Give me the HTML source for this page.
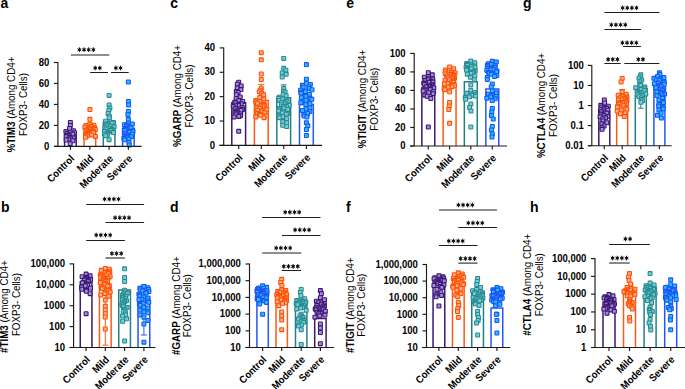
<!DOCTYPE html>
<html><head><meta charset="utf-8"><style>
html,body{margin:0;padding:0;background:#fff;}
svg{display:block;}
</style></head><body>
<svg width="685" height="389" viewBox="0 0 685 389" font-family='"Liberation Sans", sans-serif' fill="#000">
<defs><g id="st"><path d="M0,-1.95V1.95M-1.5,-0.87L1.5,0.87M-1.5,0.87L1.5,-0.87" stroke="#111" stroke-width="1.0" stroke-linecap="round"/><circle r="1.3" fill="#111"/></g></defs>
<rect width="685" height="389" fill="#fff"/>
<text x="0.6" y="7.8" font-size="14" font-weight="bold">a</text>
<text transform="translate(14.6,104.6) rotate(-90) scale(0.924,1)" text-anchor="middle" font-size="10.6"><tspan font-weight="bold">%TIM3</tspan> (Among CD4+</text>
<text transform="translate(26.8,104.6) rotate(-90) scale(0.924,1)" text-anchor="middle" font-size="10.6">FOXP3- Cells)</text>
<line x1="53.9" y1="146.35" x2="57.9" y2="146.35" stroke="#1a1a1a" stroke-width="1.15"/>
<text transform="translate(49.3,149.55) scale(0.918,1)" text-anchor="end" font-size="10.4" font-weight="bold">0</text>
<line x1="53.9" y1="125.39" x2="57.9" y2="125.39" stroke="#1a1a1a" stroke-width="1.15"/>
<text transform="translate(49.3,128.59) scale(0.918,1)" text-anchor="end" font-size="10.4" font-weight="bold">20</text>
<line x1="53.9" y1="104.42" x2="57.9" y2="104.42" stroke="#1a1a1a" stroke-width="1.15"/>
<text transform="translate(49.3,107.62) scale(0.918,1)" text-anchor="end" font-size="10.4" font-weight="bold">40</text>
<line x1="53.9" y1="83.46" x2="57.9" y2="83.46" stroke="#1a1a1a" stroke-width="1.15"/>
<text transform="translate(49.3,86.66) scale(0.918,1)" text-anchor="end" font-size="10.4" font-weight="bold">60</text>
<line x1="53.9" y1="62.5" x2="57.9" y2="62.5" stroke="#1a1a1a" stroke-width="1.15"/>
<text transform="translate(49.3,65.7) scale(0.918,1)" text-anchor="end" font-size="10.4" font-weight="bold">80</text>
<path d="M64.6,146.35V134.5H76.2V146.35" fill="none" stroke="#3d1a6c" stroke-width="1.5"/>
<path d="M84.1,146.35V128.3H95.7V146.35" fill="none" stroke="#ff5a14" stroke-width="1.5"/>
<path d="M103.3,146.35V122.5H114.9V146.35" fill="none" stroke="#217f86" stroke-width="1.5"/>
<path d="M122.6,146.35V128.3H134.2V146.35" fill="none" stroke="#2356fa" stroke-width="1.5"/>
<g fill="#a48ae0" stroke="#3c1872" stroke-width="1.1">
<rect x="68.45" y="120.55" width="3.9" height="3.9" rx="0.5"/>
<rect x="68.39" y="123.55" width="3.9" height="3.9" rx="0.5"/>
<rect x="67.61" y="126.55" width="3.9" height="3.9" rx="0.5"/>
<rect x="71.45" y="128.73" width="3.9" height="3.9" rx="0.5"/>
<rect x="63.95" y="129.67" width="3.9" height="3.9" rx="0.5"/>
<rect x="68.39" y="130.29" width="3.9" height="3.9" rx="0.5"/>
<rect x="72.57" y="130.75" width="3.9" height="3.9" rx="0.5"/>
<rect x="65.27" y="131.5" width="3.9" height="3.9" rx="0.5"/>
<rect x="70.83" y="132.14" width="3.9" height="3.9" rx="0.5"/>
<rect x="66.83" y="132.88" width="3.9" height="3.9" rx="0.5"/>
<rect x="66.76" y="133.59" width="3.9" height="3.9" rx="0.5"/>
<rect x="66.3" y="133.97" width="3.9" height="3.9" rx="0.5"/>
<rect x="64.25" y="134.6" width="3.9" height="3.9" rx="0.5"/>
<rect x="67.79" y="135.57" width="3.9" height="3.9" rx="0.5"/>
<rect x="71.45" y="136.07" width="3.9" height="3.9" rx="0.5"/>
<rect x="68.76" y="136.86" width="3.9" height="3.9" rx="0.5"/>
<rect x="66.46" y="137.21" width="3.9" height="3.9" rx="0.5"/>
<rect x="64.21" y="138.04" width="3.9" height="3.9" rx="0.5"/>
<rect x="70.9" y="138.81" width="3.9" height="3.9" rx="0.5"/>
<rect x="68.24" y="141.75" width="3.9" height="3.9" rx="0.5"/>
</g>
<g fill="#ffab8c" stroke="#ff5200" stroke-width="1.1">
<rect x="87.95" y="107.65" width="3.9" height="3.9" rx="0.5"/>
<rect x="87.95" y="117.35" width="3.9" height="3.9" rx="0.5"/>
<rect x="87.95" y="122.16" width="3.9" height="3.9" rx="0.5"/>
<rect x="91.95" y="123.25" width="3.9" height="3.9" rx="0.5"/>
<rect x="83.95" y="123.64" width="3.9" height="3.9" rx="0.5"/>
<rect x="89.4" y="124.38" width="3.9" height="3.9" rx="0.5"/>
<rect x="82.88" y="125.26" width="3.9" height="3.9" rx="0.5"/>
<rect x="92.59" y="125.76" width="3.9" height="3.9" rx="0.5"/>
<rect x="88.61" y="126.23" width="3.9" height="3.9" rx="0.5"/>
<rect x="89.94" y="126.58" width="3.9" height="3.9" rx="0.5"/>
<rect x="92.1" y="127.09" width="3.9" height="3.9" rx="0.5"/>
<rect x="93.39" y="127.49" width="3.9" height="3.9" rx="0.5"/>
<rect x="87.78" y="127.86" width="3.9" height="3.9" rx="0.5"/>
<rect x="84.65" y="128.13" width="3.9" height="3.9" rx="0.5"/>
<rect x="85.2" y="128.54" width="3.9" height="3.9" rx="0.5"/>
<rect x="84.58" y="128.86" width="3.9" height="3.9" rx="0.5"/>
<rect x="91.5" y="129.25" width="3.9" height="3.9" rx="0.5"/>
<rect x="89.38" y="129.61" width="3.9" height="3.9" rx="0.5"/>
<rect x="88.2" y="129.9" width="3.9" height="3.9" rx="0.5"/>
<rect x="87.32" y="130.11" width="3.9" height="3.9" rx="0.5"/>
<rect x="89.05" y="130.38" width="3.9" height="3.9" rx="0.5"/>
<rect x="91.5" y="130.65" width="3.9" height="3.9" rx="0.5"/>
<rect x="85.7" y="130.91" width="3.9" height="3.9" rx="0.5"/>
<rect x="85.76" y="131.23" width="3.9" height="3.9" rx="0.5"/>
<rect x="87.43" y="131.67" width="3.9" height="3.9" rx="0.5"/>
<rect x="83.72" y="132" width="3.9" height="3.9" rx="0.5"/>
<rect x="86.21" y="132.42" width="3.9" height="3.9" rx="0.5"/>
<rect x="89.69" y="133" width="3.9" height="3.9" rx="0.5"/>
<rect x="84.16" y="133.39" width="3.9" height="3.9" rx="0.5"/>
<rect x="85.32" y="133.97" width="3.9" height="3.9" rx="0.5"/>
<rect x="93.45" y="134.52" width="3.9" height="3.9" rx="0.5"/>
<rect x="83.48" y="135.31" width="3.9" height="3.9" rx="0.5"/>
</g>
<g fill="#78cdd3" stroke="#288b94" stroke-width="1.1">
<rect x="107.15" y="93.45" width="3.9" height="3.9" rx="0.5"/>
<rect x="107.15" y="102.96" width="3.9" height="3.9" rx="0.5"/>
<rect x="107.92" y="106.12" width="3.9" height="3.9" rx="0.5"/>
<rect x="106.9" y="108.51" width="3.9" height="3.9" rx="0.5"/>
<rect x="106.13" y="111.55" width="3.9" height="3.9" rx="0.5"/>
<rect x="107.39" y="114.25" width="3.9" height="3.9" rx="0.5"/>
<rect x="107.34" y="116.02" width="3.9" height="3.9" rx="0.5"/>
<rect x="103.65" y="119.26" width="3.9" height="3.9" rx="0.5"/>
<rect x="107.65" y="120" width="3.9" height="3.9" rx="0.5"/>
<rect x="111.65" y="120.56" width="3.9" height="3.9" rx="0.5"/>
<rect x="109.99" y="121.28" width="3.9" height="3.9" rx="0.5"/>
<rect x="105.86" y="121.91" width="3.9" height="3.9" rx="0.5"/>
<rect x="104.18" y="122.32" width="3.9" height="3.9" rx="0.5"/>
<rect x="106.57" y="122.93" width="3.9" height="3.9" rx="0.5"/>
<rect x="105.02" y="123.86" width="3.9" height="3.9" rx="0.5"/>
<rect x="108.54" y="124.27" width="3.9" height="3.9" rx="0.5"/>
<rect x="112.15" y="124.89" width="3.9" height="3.9" rx="0.5"/>
<rect x="102.99" y="125.8" width="3.9" height="3.9" rx="0.5"/>
<rect x="107.75" y="126.23" width="3.9" height="3.9" rx="0.5"/>
<rect x="104.11" y="126.99" width="3.9" height="3.9" rx="0.5"/>
<rect x="110.12" y="127.48" width="3.9" height="3.9" rx="0.5"/>
<rect x="110.14" y="128.16" width="3.9" height="3.9" rx="0.5"/>
<rect x="108.56" y="128.61" width="3.9" height="3.9" rx="0.5"/>
<rect x="102.49" y="129.41" width="3.9" height="3.9" rx="0.5"/>
<rect x="106.36" y="130.13" width="3.9" height="3.9" rx="0.5"/>
<rect x="111.52" y="130.62" width="3.9" height="3.9" rx="0.5"/>
<rect x="105.53" y="131.33" width="3.9" height="3.9" rx="0.5"/>
<rect x="102.51" y="131.93" width="3.9" height="3.9" rx="0.5"/>
<rect x="105.34" y="132.32" width="3.9" height="3.9" rx="0.5"/>
<rect x="105.44" y="133.21" width="3.9" height="3.9" rx="0.5"/>
<rect x="103.62" y="133.77" width="3.9" height="3.9" rx="0.5"/>
<rect x="107.15" y="137.75" width="3.9" height="3.9" rx="0.5"/>
</g>
<g fill="#22c0ff" stroke="#1e52f5" stroke-width="1.1">
<rect x="126.45" y="80.05" width="3.9" height="3.9" rx="0.5"/>
<rect x="126.45" y="99.45" width="3.9" height="3.9" rx="0.5"/>
<rect x="126.67" y="103.05" width="3.9" height="3.9" rx="0.5"/>
<rect x="126.45" y="109.55" width="3.9" height="3.9" rx="0.5"/>
<rect x="125.93" y="112.55" width="3.9" height="3.9" rx="0.5"/>
<rect x="126.45" y="117.45" width="3.9" height="3.9" rx="0.5"/>
<rect x="126.45" y="121.29" width="3.9" height="3.9" rx="0.5"/>
<rect x="130.45" y="121.94" width="3.9" height="3.9" rx="0.5"/>
<rect x="122.45" y="122.78" width="3.9" height="3.9" rx="0.5"/>
<rect x="125.07" y="123.38" width="3.9" height="3.9" rx="0.5"/>
<rect x="124.83" y="124.05" width="3.9" height="3.9" rx="0.5"/>
<rect x="124.56" y="124.9" width="3.9" height="3.9" rx="0.5"/>
<rect x="128.95" y="125.83" width="3.9" height="3.9" rx="0.5"/>
<rect x="125" y="126.49" width="3.9" height="3.9" rx="0.5"/>
<rect x="123.26" y="127.18" width="3.9" height="3.9" rx="0.5"/>
<rect x="124.02" y="127.66" width="3.9" height="3.9" rx="0.5"/>
<rect x="122.86" y="128.5" width="3.9" height="3.9" rx="0.5"/>
<rect x="130.85" y="129.1" width="3.9" height="3.9" rx="0.5"/>
<rect x="130.88" y="129.77" width="3.9" height="3.9" rx="0.5"/>
<rect x="127.5" y="130.45" width="3.9" height="3.9" rx="0.5"/>
<rect x="123.38" y="131.2" width="3.9" height="3.9" rx="0.5"/>
<rect x="130.3" y="132.21" width="3.9" height="3.9" rx="0.5"/>
<rect x="124.65" y="132.88" width="3.9" height="3.9" rx="0.5"/>
<rect x="126.45" y="133.58" width="3.9" height="3.9" rx="0.5"/>
<rect x="125.5" y="134.28" width="3.9" height="3.9" rx="0.5"/>
<rect x="129.39" y="134.73" width="3.9" height="3.9" rx="0.5"/>
<rect x="124.92" y="135.49" width="3.9" height="3.9" rx="0.5"/>
<rect x="121.92" y="136.33" width="3.9" height="3.9" rx="0.5"/>
<rect x="126.9" y="137.09" width="3.9" height="3.9" rx="0.5"/>
<rect x="122.78" y="137.85" width="3.9" height="3.9" rx="0.5"/>
<rect x="127.05" y="140.55" width="3.9" height="3.9" rx="0.5"/>
<rect x="127.31" y="143.05" width="3.9" height="3.9" rx="0.5"/>
</g>
<line x1="57.9" y1="62" x2="57.9" y2="146.35" stroke="#1a1a1a" stroke-width="1.15"/>
<line x1="54" y1="146.35" x2="141.6" y2="146.35" stroke="#1a1a1a" stroke-width="1.15"/>
<line x1="70.4" y1="146.35" x2="70.4" y2="149.85" stroke="#1a1a1a" stroke-width="1.15"/>
<line x1="89.9" y1="146.35" x2="89.9" y2="149.85" stroke="#1a1a1a" stroke-width="1.15"/>
<line x1="109.1" y1="146.35" x2="109.1" y2="149.85" stroke="#1a1a1a" stroke-width="1.15"/>
<line x1="128.4" y1="146.35" x2="128.4" y2="149.85" stroke="#1a1a1a" stroke-width="1.15"/>
<text transform="translate(74.9,159.25) rotate(-45) scale(0.92,1)" text-anchor="end" font-size="10.3" font-weight="bold">Control</text>
<text transform="translate(94.4,159.25) rotate(-45) scale(0.92,1)" text-anchor="end" font-size="10.3" font-weight="bold">Mild</text>
<text transform="translate(113.6,159.25) rotate(-45) scale(0.92,1)" text-anchor="end" font-size="10.3" font-weight="bold">Moderate</text>
<text transform="translate(132.9,159.25) rotate(-45) scale(0.92,1)" text-anchor="end" font-size="10.3" font-weight="bold">Severe</text>
<line x1="70.9" y1="55" x2="109.3" y2="55" stroke="#1e1e1e" stroke-width="1.05"/>
<use href="#st" x="79.4" y="49.7"/>
<use href="#st" x="84.05" y="49.7"/>
<use href="#st" x="88.7" y="49.7"/>
<use href="#st" x="93.35" y="49.7"/>
<line x1="90.1" y1="72.5" x2="107.9" y2="72.5" stroke="#1e1e1e" stroke-width="1.05"/>
<use href="#st" x="95.2" y="68"/>
<use href="#st" x="99.85" y="68"/>
<line x1="111" y1="72.5" x2="128.7" y2="72.5" stroke="#1e1e1e" stroke-width="1.05"/>
<use href="#st" x="115.9" y="68"/>
<use href="#st" x="120.55" y="68"/>
<text x="170.3" y="7.8" font-size="14" font-weight="bold">c</text>
<text transform="translate(180.5,96) rotate(-90) scale(0.924,1)" text-anchor="middle" font-size="10.6"><tspan font-weight="bold">%GARP</tspan> (Among CD4+</text>
<text transform="translate(192.7,96) rotate(-90) scale(0.924,1)" text-anchor="middle" font-size="10.6">FOXP3- Cells)</text>
<line x1="219.7" y1="145.4" x2="223.7" y2="145.4" stroke="#1a1a1a" stroke-width="1.15"/>
<text transform="translate(215.1,148.6) scale(0.918,1)" text-anchor="end" font-size="10.4" font-weight="bold">0</text>
<line x1="219.7" y1="121.03" x2="223.7" y2="121.03" stroke="#1a1a1a" stroke-width="1.15"/>
<text transform="translate(215.1,124.23) scale(0.918,1)" text-anchor="end" font-size="10.4" font-weight="bold">10</text>
<line x1="219.7" y1="96.65" x2="223.7" y2="96.65" stroke="#1a1a1a" stroke-width="1.15"/>
<text transform="translate(215.1,99.85) scale(0.918,1)" text-anchor="end" font-size="10.4" font-weight="bold">20</text>
<line x1="219.7" y1="72.28" x2="223.7" y2="72.28" stroke="#1a1a1a" stroke-width="1.15"/>
<text transform="translate(215.1,75.48) scale(0.918,1)" text-anchor="end" font-size="10.4" font-weight="bold">30</text>
<line x1="219.7" y1="47.9" x2="223.7" y2="47.9" stroke="#1a1a1a" stroke-width="1.15"/>
<text transform="translate(215.1,51.1) scale(0.918,1)" text-anchor="end" font-size="10.4" font-weight="bold">40</text>
<path d="M231.8,145.4V102.8H245.6V145.4" fill="none" stroke="#3d1a6c" stroke-width="1.5"/>
<path d="M254.4,145.4V100.5H268.2V145.4" fill="none" stroke="#ff5a14" stroke-width="1.5"/>
<path d="M276.8,145.4V97.8H290.6V145.4" fill="none" stroke="#217f86" stroke-width="1.5"/>
<path d="M299.5,145.4V104.5H313.3V145.4" fill="none" stroke="#2356fa" stroke-width="1.5"/>
<line x1="261.3" y1="84.6" x2="261.3" y2="100.5" stroke="#ff5a14" stroke-width="1"/>
<line x1="258.3" y1="84.6" x2="264.3" y2="84.6" stroke="#ff5a14" stroke-width="1"/>
<line x1="258.3" y1="100.5" x2="264.3" y2="100.5" stroke="#ff5a14" stroke-width="1"/>
<line x1="283.7" y1="84.9" x2="283.7" y2="98.8" stroke="#217f86" stroke-width="1"/>
<line x1="280.7" y1="84.9" x2="286.7" y2="84.9" stroke="#217f86" stroke-width="1"/>
<line x1="280.7" y1="98.8" x2="286.7" y2="98.8" stroke="#217f86" stroke-width="1"/>
<g fill="#a48ae0" stroke="#3c1872" stroke-width="1.1">
<rect x="236.75" y="80.28" width="3.9" height="3.9" rx="0.5"/>
<rect x="235.39" y="82.21" width="3.9" height="3.9" rx="0.5"/>
<rect x="239.25" y="84.07" width="3.9" height="3.9" rx="0.5"/>
<rect x="235.25" y="86.03" width="3.9" height="3.9" rx="0.5"/>
<rect x="238.96" y="87.61" width="3.9" height="3.9" rx="0.5"/>
<rect x="234.36" y="89.61" width="3.9" height="3.9" rx="0.5"/>
<rect x="236.17" y="90.44" width="3.9" height="3.9" rx="0.5"/>
<rect x="234.47" y="92.71" width="3.9" height="3.9" rx="0.5"/>
<rect x="238.25" y="95.03" width="3.9" height="3.9" rx="0.5"/>
<rect x="234.25" y="96.51" width="3.9" height="3.9" rx="0.5"/>
<rect x="236.72" y="98.58" width="3.9" height="3.9" rx="0.5"/>
<rect x="240.75" y="99.48" width="3.9" height="3.9" rx="0.5"/>
<rect x="232.75" y="100.28" width="3.9" height="3.9" rx="0.5"/>
<rect x="233.82" y="101.05" width="3.9" height="3.9" rx="0.5"/>
<rect x="239.26" y="101.86" width="3.9" height="3.9" rx="0.5"/>
<rect x="236.53" y="102.51" width="3.9" height="3.9" rx="0.5"/>
<rect x="236.41" y="103.34" width="3.9" height="3.9" rx="0.5"/>
<rect x="233.56" y="103.68" width="3.9" height="3.9" rx="0.5"/>
<rect x="231.27" y="104.63" width="3.9" height="3.9" rx="0.5"/>
<rect x="240.25" y="105.58" width="3.9" height="3.9" rx="0.5"/>
<rect x="234.18" y="106.2" width="3.9" height="3.9" rx="0.5"/>
<rect x="233.22" y="107.06" width="3.9" height="3.9" rx="0.5"/>
<rect x="240.7" y="107.45" width="3.9" height="3.9" rx="0.5"/>
<rect x="239.04" y="108.35" width="3.9" height="3.9" rx="0.5"/>
<rect x="234.76" y="109" width="3.9" height="3.9" rx="0.5"/>
<rect x="234.91" y="109.88" width="3.9" height="3.9" rx="0.5"/>
<rect x="232.98" y="110.64" width="3.9" height="3.9" rx="0.5"/>
<rect x="234.58" y="111.13" width="3.9" height="3.9" rx="0.5"/>
<rect x="238.75" y="111.97" width="3.9" height="3.9" rx="0.5"/>
<rect x="233.87" y="112.74" width="3.9" height="3.9" rx="0.5"/>
<rect x="238.57" y="113.77" width="3.9" height="3.9" rx="0.5"/>
<rect x="236.84" y="114.45" width="3.9" height="3.9" rx="0.5"/>
<rect x="232.09" y="114.93" width="3.9" height="3.9" rx="0.5"/>
<rect x="236.75" y="129.35" width="3.9" height="3.9" rx="0.5"/>
</g>
<g fill="#ffab8c" stroke="#ff5200" stroke-width="1.1">
<rect x="259.35" y="50.75" width="3.9" height="3.9" rx="0.5"/>
<rect x="259.35" y="57.85" width="3.9" height="3.9" rx="0.5"/>
<rect x="259.35" y="72.05" width="3.9" height="3.9" rx="0.5"/>
<rect x="259.35" y="77.55" width="3.9" height="3.9" rx="0.5"/>
<rect x="259.35" y="86.31" width="3.9" height="3.9" rx="0.5"/>
<rect x="258.45" y="88.19" width="3.9" height="3.9" rx="0.5"/>
<rect x="257.38" y="89.68" width="3.9" height="3.9" rx="0.5"/>
<rect x="259.84" y="91.28" width="3.9" height="3.9" rx="0.5"/>
<rect x="261.71" y="92.85" width="3.9" height="3.9" rx="0.5"/>
<rect x="257.85" y="95.45" width="3.9" height="3.9" rx="0.5"/>
<rect x="261.85" y="97.09" width="3.9" height="3.9" rx="0.5"/>
<rect x="253.85" y="98.6" width="3.9" height="3.9" rx="0.5"/>
<rect x="257.85" y="99.44" width="3.9" height="3.9" rx="0.5"/>
<rect x="254.16" y="100.09" width="3.9" height="3.9" rx="0.5"/>
<rect x="261.85" y="100.8" width="3.9" height="3.9" rx="0.5"/>
<rect x="255.58" y="101.49" width="3.9" height="3.9" rx="0.5"/>
<rect x="261.63" y="102.63" width="3.9" height="3.9" rx="0.5"/>
<rect x="262.51" y="103.35" width="3.9" height="3.9" rx="0.5"/>
<rect x="261.08" y="104.31" width="3.9" height="3.9" rx="0.5"/>
<rect x="258.62" y="104.94" width="3.9" height="3.9" rx="0.5"/>
<rect x="254.85" y="105.96" width="3.9" height="3.9" rx="0.5"/>
<rect x="257.66" y="106.53" width="3.9" height="3.9" rx="0.5"/>
<rect x="264.85" y="107.61" width="3.9" height="3.9" rx="0.5"/>
<rect x="255.7" y="108.39" width="3.9" height="3.9" rx="0.5"/>
<rect x="260.17" y="109.05" width="3.9" height="3.9" rx="0.5"/>
<rect x="259.92" y="109.93" width="3.9" height="3.9" rx="0.5"/>
<rect x="262.94" y="110.82" width="3.9" height="3.9" rx="0.5"/>
<rect x="255.64" y="111.4" width="3.9" height="3.9" rx="0.5"/>
<rect x="257.6" y="112.39" width="3.9" height="3.9" rx="0.5"/>
<rect x="258.62" y="113.34" width="3.9" height="3.9" rx="0.5"/>
<rect x="264.46" y="113.89" width="3.9" height="3.9" rx="0.5"/>
<rect x="253.92" y="114.97" width="3.9" height="3.9" rx="0.5"/>
<rect x="262.11" y="115.73" width="3.9" height="3.9" rx="0.5"/>
</g>
<g fill="#78cdd3" stroke="#288b94" stroke-width="1.1">
<rect x="281.75" y="56.45" width="3.9" height="3.9" rx="0.5"/>
<rect x="281.75" y="66.38" width="3.9" height="3.9" rx="0.5"/>
<rect x="283.92" y="68.26" width="3.9" height="3.9" rx="0.5"/>
<rect x="280.25" y="70.99" width="3.9" height="3.9" rx="0.5"/>
<rect x="284.25" y="72.36" width="3.9" height="3.9" rx="0.5"/>
<rect x="280.25" y="75.05" width="3.9" height="3.9" rx="0.5"/>
<rect x="281.75" y="86.65" width="3.9" height="3.9" rx="0.5"/>
<rect x="281.54" y="89.25" width="3.9" height="3.9" rx="0.5"/>
<rect x="283.13" y="90.15" width="3.9" height="3.9" rx="0.5"/>
<rect x="281.33" y="92.57" width="3.9" height="3.9" rx="0.5"/>
<rect x="284.17" y="93.7" width="3.9" height="3.9" rx="0.5"/>
<rect x="277.25" y="95.32" width="3.9" height="3.9" rx="0.5"/>
<rect x="276.73" y="96.49" width="3.9" height="3.9" rx="0.5"/>
<rect x="280.63" y="96.89" width="3.9" height="3.9" rx="0.5"/>
<rect x="284.25" y="97.98" width="3.9" height="3.9" rx="0.5"/>
<rect x="277.18" y="98.48" width="3.9" height="3.9" rx="0.5"/>
<rect x="285.11" y="99.37" width="3.9" height="3.9" rx="0.5"/>
<rect x="279.73" y="100.54" width="3.9" height="3.9" rx="0.5"/>
<rect x="283.41" y="100.97" width="3.9" height="3.9" rx="0.5"/>
<rect x="282.04" y="101.98" width="3.9" height="3.9" rx="0.5"/>
<rect x="279.45" y="102.7" width="3.9" height="3.9" rx="0.5"/>
<rect x="287.25" y="103.51" width="3.9" height="3.9" rx="0.5"/>
<rect x="281.3" y="104.34" width="3.9" height="3.9" rx="0.5"/>
<rect x="284.55" y="105" width="3.9" height="3.9" rx="0.5"/>
<rect x="282.22" y="106.11" width="3.9" height="3.9" rx="0.5"/>
<rect x="277.25" y="106.56" width="3.9" height="3.9" rx="0.5"/>
<rect x="285.7" y="107.44" width="3.9" height="3.9" rx="0.5"/>
<rect x="277.56" y="108.14" width="3.9" height="3.9" rx="0.5"/>
<rect x="276.65" y="109.07" width="3.9" height="3.9" rx="0.5"/>
<rect x="281.75" y="109.95" width="3.9" height="3.9" rx="0.5"/>
<rect x="280.39" y="110.99" width="3.9" height="3.9" rx="0.5"/>
<rect x="285.75" y="111.55" width="3.9" height="3.9" rx="0.5"/>
<rect x="284.37" y="112.23" width="3.9" height="3.9" rx="0.5"/>
<rect x="276.75" y="113.11" width="3.9" height="3.9" rx="0.5"/>
<rect x="276.85" y="114.27" width="3.9" height="3.9" rx="0.5"/>
<rect x="280.75" y="114.63" width="3.9" height="3.9" rx="0.5"/>
<rect x="277.37" y="115.7" width="3.9" height="3.9" rx="0.5"/>
<rect x="284.75" y="116.72" width="3.9" height="3.9" rx="0.5"/>
<rect x="280.75" y="119.6" width="3.9" height="3.9" rx="0.5"/>
<rect x="284.75" y="120.6" width="3.9" height="3.9" rx="0.5"/>
<rect x="280.75" y="123.3" width="3.9" height="3.9" rx="0.5"/>
<rect x="284.75" y="124.55" width="3.9" height="3.9" rx="0.5"/>
</g>
<g fill="#22c0ff" stroke="#1e52f5" stroke-width="1.1">
<rect x="304.45" y="62.65" width="3.9" height="3.9" rx="0.5"/>
<rect x="304.45" y="77.25" width="3.9" height="3.9" rx="0.5"/>
<rect x="304.45" y="81.53" width="3.9" height="3.9" rx="0.5"/>
<rect x="308.45" y="82.47" width="3.9" height="3.9" rx="0.5"/>
<rect x="300.45" y="83.33" width="3.9" height="3.9" rx="0.5"/>
<rect x="306.87" y="84.77" width="3.9" height="3.9" rx="0.5"/>
<rect x="301.28" y="85.25" width="3.9" height="3.9" rx="0.5"/>
<rect x="307.34" y="86.55" width="3.9" height="3.9" rx="0.5"/>
<rect x="310.04" y="87.79" width="3.9" height="3.9" rx="0.5"/>
<rect x="298.68" y="88.3" width="3.9" height="3.9" rx="0.5"/>
<rect x="303.45" y="89.58" width="3.9" height="3.9" rx="0.5"/>
<rect x="299.08" y="90.62" width="3.9" height="3.9" rx="0.5"/>
<rect x="299.16" y="91.27" width="3.9" height="3.9" rx="0.5"/>
<rect x="307.45" y="92.48" width="3.9" height="3.9" rx="0.5"/>
<rect x="303.45" y="93.67" width="3.9" height="3.9" rx="0.5"/>
<rect x="303.97" y="94.52" width="3.9" height="3.9" rx="0.5"/>
<rect x="299.45" y="95.69" width="3.9" height="3.9" rx="0.5"/>
<rect x="307.95" y="96.34" width="3.9" height="3.9" rx="0.5"/>
<rect x="309.79" y="97.39" width="3.9" height="3.9" rx="0.5"/>
<rect x="303.95" y="98.32" width="3.9" height="3.9" rx="0.5"/>
<rect x="299.95" y="99.55" width="3.9" height="3.9" rx="0.5"/>
<rect x="298.91" y="100.8" width="3.9" height="3.9" rx="0.5"/>
<rect x="307.95" y="101.6" width="3.9" height="3.9" rx="0.5"/>
<rect x="303.95" y="102.71" width="3.9" height="3.9" rx="0.5"/>
<rect x="307.95" y="105.8" width="3.9" height="3.9" rx="0.5"/>
<rect x="303.95" y="107.05" width="3.9" height="3.9" rx="0.5"/>
<rect x="300.54" y="108.55" width="3.9" height="3.9" rx="0.5"/>
<rect x="307.95" y="109.62" width="3.9" height="3.9" rx="0.5"/>
<rect x="305.73" y="111.5" width="3.9" height="3.9" rx="0.5"/>
<rect x="301.95" y="112.88" width="3.9" height="3.9" rx="0.5"/>
<rect x="302.2" y="114.11" width="3.9" height="3.9" rx="0.5"/>
<rect x="305" y="115.08" width="3.9" height="3.9" rx="0.5"/>
<rect x="304.45" y="120.86" width="3.9" height="3.9" rx="0.5"/>
<rect x="305.83" y="123.91" width="3.9" height="3.9" rx="0.5"/>
<rect x="304.45" y="127.54" width="3.9" height="3.9" rx="0.5"/>
<rect x="304.45" y="133.55" width="3.9" height="3.9" rx="0.5"/>
</g>
<line x1="223.7" y1="47.4" x2="223.7" y2="145.4" stroke="#1a1a1a" stroke-width="1.15"/>
<line x1="219.4" y1="145.4" x2="322" y2="145.4" stroke="#1a1a1a" stroke-width="1.15"/>
<line x1="238.7" y1="145.4" x2="238.7" y2="148.9" stroke="#1a1a1a" stroke-width="1.15"/>
<line x1="261.3" y1="145.4" x2="261.3" y2="148.9" stroke="#1a1a1a" stroke-width="1.15"/>
<line x1="283.7" y1="145.4" x2="283.7" y2="148.9" stroke="#1a1a1a" stroke-width="1.15"/>
<line x1="306.4" y1="145.4" x2="306.4" y2="148.9" stroke="#1a1a1a" stroke-width="1.15"/>
<text transform="translate(243.2,158.3) rotate(-45) scale(0.92,1)" text-anchor="end" font-size="10.3" font-weight="bold">Control</text>
<text transform="translate(265.8,158.3) rotate(-45) scale(0.92,1)" text-anchor="end" font-size="10.3" font-weight="bold">Mild</text>
<text transform="translate(288.2,158.3) rotate(-45) scale(0.92,1)" text-anchor="end" font-size="10.3" font-weight="bold">Moderate</text>
<text transform="translate(310.9,158.3) rotate(-45) scale(0.92,1)" text-anchor="end" font-size="10.3" font-weight="bold">Severe</text>
<text x="346.3" y="7.8" font-size="14" font-weight="bold">e</text>
<text transform="translate(366,99.2) rotate(-90) scale(0.924,1)" text-anchor="middle" font-size="10.6"><tspan font-weight="bold">%TIGIT</tspan> (Among CD4+</text>
<text transform="translate(378,99.2) rotate(-90) scale(0.924,1)" text-anchor="middle" font-size="10.6">FOXP3- Cells)</text>
<line x1="410.2" y1="146" x2="414.2" y2="146" stroke="#1a1a1a" stroke-width="1.15"/>
<text transform="translate(405.6,149.2) scale(0.918,1)" text-anchor="end" font-size="10.4" font-weight="bold">0</text>
<line x1="410.2" y1="127.48" x2="414.2" y2="127.48" stroke="#1a1a1a" stroke-width="1.15"/>
<text transform="translate(405.6,130.68) scale(0.918,1)" text-anchor="end" font-size="10.4" font-weight="bold">20</text>
<line x1="410.2" y1="108.96" x2="414.2" y2="108.96" stroke="#1a1a1a" stroke-width="1.15"/>
<text transform="translate(405.6,112.16) scale(0.918,1)" text-anchor="end" font-size="10.4" font-weight="bold">40</text>
<line x1="410.2" y1="90.44" x2="414.2" y2="90.44" stroke="#1a1a1a" stroke-width="1.15"/>
<text transform="translate(405.6,93.64) scale(0.918,1)" text-anchor="end" font-size="10.4" font-weight="bold">60</text>
<line x1="410.2" y1="71.92" x2="414.2" y2="71.92" stroke="#1a1a1a" stroke-width="1.15"/>
<text transform="translate(405.6,75.12) scale(0.918,1)" text-anchor="end" font-size="10.4" font-weight="bold">80</text>
<line x1="410.2" y1="53.4" x2="414.2" y2="53.4" stroke="#1a1a1a" stroke-width="1.15"/>
<text transform="translate(405.6,56.6) scale(0.918,1)" text-anchor="end" font-size="10.4" font-weight="bold">100</text>
<path d="M421.85,146V88H434.75V146" fill="none" stroke="#3d1a6c" stroke-width="1.5"/>
<path d="M443.15,146V84.2H456.05V146" fill="none" stroke="#ff5a14" stroke-width="1.5"/>
<path d="M464.35,146V81.8H477.25V146" fill="none" stroke="#217f86" stroke-width="1.5"/>
<path d="M485.85,146V89H498.75V146" fill="none" stroke="#2356fa" stroke-width="1.5"/>
<g fill="#a48ae0" stroke="#3c1872" stroke-width="1.1">
<rect x="426.35" y="70.71" width="3.9" height="3.9" rx="0.5"/>
<rect x="430.35" y="72.85" width="3.9" height="3.9" rx="0.5"/>
<rect x="426.35" y="74.48" width="3.9" height="3.9" rx="0.5"/>
<rect x="422.35" y="75.28" width="3.9" height="3.9" rx="0.5"/>
<rect x="427.08" y="76.27" width="3.9" height="3.9" rx="0.5"/>
<rect x="430.85" y="77.18" width="3.9" height="3.9" rx="0.5"/>
<rect x="426.36" y="77.78" width="3.9" height="3.9" rx="0.5"/>
<rect x="422.95" y="78.67" width="3.9" height="3.9" rx="0.5"/>
<rect x="429.08" y="79.4" width="3.9" height="3.9" rx="0.5"/>
<rect x="431.02" y="80.1" width="3.9" height="3.9" rx="0.5"/>
<rect x="426.81" y="80.46" width="3.9" height="3.9" rx="0.5"/>
<rect x="421.81" y="81.12" width="3.9" height="3.9" rx="0.5"/>
<rect x="423.67" y="81.61" width="3.9" height="3.9" rx="0.5"/>
<rect x="422.34" y="82.39" width="3.9" height="3.9" rx="0.5"/>
<rect x="430.8" y="82.86" width="3.9" height="3.9" rx="0.5"/>
<rect x="429.99" y="83.17" width="3.9" height="3.9" rx="0.5"/>
<rect x="427.24" y="83.94" width="3.9" height="3.9" rx="0.5"/>
<rect x="428.36" y="84.44" width="3.9" height="3.9" rx="0.5"/>
<rect x="424" y="84.86" width="3.9" height="3.9" rx="0.5"/>
<rect x="430.47" y="85.39" width="3.9" height="3.9" rx="0.5"/>
<rect x="431.84" y="85.79" width="3.9" height="3.9" rx="0.5"/>
<rect x="428.36" y="86.32" width="3.9" height="3.9" rx="0.5"/>
<rect x="422.17" y="87.12" width="3.9" height="3.9" rx="0.5"/>
<rect x="428.34" y="87.58" width="3.9" height="3.9" rx="0.5"/>
<rect x="423.1" y="88.31" width="3.9" height="3.9" rx="0.5"/>
<rect x="421.26" y="89.05" width="3.9" height="3.9" rx="0.5"/>
<rect x="431.63" y="89.73" width="3.9" height="3.9" rx="0.5"/>
<rect x="426.69" y="90.81" width="3.9" height="3.9" rx="0.5"/>
<rect x="431.06" y="91.76" width="3.9" height="3.9" rx="0.5"/>
<rect x="422.85" y="93.18" width="3.9" height="3.9" rx="0.5"/>
<rect x="425.21" y="94.32" width="3.9" height="3.9" rx="0.5"/>
<rect x="428.85" y="96.55" width="3.9" height="3.9" rx="0.5"/>
<rect x="426.35" y="125.05" width="3.9" height="3.9" rx="0.5"/>
</g>
<g fill="#ffab8c" stroke="#ff5200" stroke-width="1.1">
<rect x="447.65" y="65.04" width="3.9" height="3.9" rx="0.5"/>
<rect x="451.65" y="66.9" width="3.9" height="3.9" rx="0.5"/>
<rect x="443.65" y="68.05" width="3.9" height="3.9" rx="0.5"/>
<rect x="447.65" y="68.71" width="3.9" height="3.9" rx="0.5"/>
<rect x="443.24" y="69.49" width="3.9" height="3.9" rx="0.5"/>
<rect x="449.47" y="70.4" width="3.9" height="3.9" rx="0.5"/>
<rect x="453.15" y="71.04" width="3.9" height="3.9" rx="0.5"/>
<rect x="443.32" y="71.86" width="3.9" height="3.9" rx="0.5"/>
<rect x="449.69" y="72.4" width="3.9" height="3.9" rx="0.5"/>
<rect x="451.37" y="72.91" width="3.9" height="3.9" rx="0.5"/>
<rect x="451.79" y="73.42" width="3.9" height="3.9" rx="0.5"/>
<rect x="444.8" y="73.94" width="3.9" height="3.9" rx="0.5"/>
<rect x="451.89" y="74.27" width="3.9" height="3.9" rx="0.5"/>
<rect x="451.72" y="74.81" width="3.9" height="3.9" rx="0.5"/>
<rect x="445.01" y="75.18" width="3.9" height="3.9" rx="0.5"/>
<rect x="446.13" y="75.85" width="3.9" height="3.9" rx="0.5"/>
<rect x="452.55" y="76.08" width="3.9" height="3.9" rx="0.5"/>
<rect x="451.38" y="76.79" width="3.9" height="3.9" rx="0.5"/>
<rect x="450.65" y="77.07" width="3.9" height="3.9" rx="0.5"/>
<rect x="447.66" y="77.78" width="3.9" height="3.9" rx="0.5"/>
<rect x="443.15" y="78.21" width="3.9" height="3.9" rx="0.5"/>
<rect x="450.91" y="78.79" width="3.9" height="3.9" rx="0.5"/>
<rect x="451.77" y="79.52" width="3.9" height="3.9" rx="0.5"/>
<rect x="450.16" y="79.83" width="3.9" height="3.9" rx="0.5"/>
<rect x="451.6" y="80.47" width="3.9" height="3.9" rx="0.5"/>
<rect x="445.53" y="81.49" width="3.9" height="3.9" rx="0.5"/>
<rect x="442.45" y="82.03" width="3.9" height="3.9" rx="0.5"/>
<rect x="451.92" y="82.6" width="3.9" height="3.9" rx="0.5"/>
<rect x="452.4" y="83.86" width="3.9" height="3.9" rx="0.5"/>
<rect x="449.87" y="84.77" width="3.9" height="3.9" rx="0.5"/>
<rect x="446.15" y="85.27" width="3.9" height="3.9" rx="0.5"/>
<rect x="442.15" y="86.63" width="3.9" height="3.9" rx="0.5"/>
<rect x="442.85" y="87.77" width="3.9" height="3.9" rx="0.5"/>
<rect x="447.65" y="89.9" width="3.9" height="3.9" rx="0.5"/>
<rect x="447.65" y="100.55" width="3.9" height="3.9" rx="0.5"/>
<rect x="447.25" y="104.05" width="3.9" height="3.9" rx="0.5"/>
<rect x="446.83" y="107.55" width="3.9" height="3.9" rx="0.5"/>
<rect x="447.65" y="121.35" width="3.9" height="3.9" rx="0.5"/>
</g>
<g fill="#78cdd3" stroke="#288b94" stroke-width="1.1">
<rect x="468.85" y="58.93" width="3.9" height="3.9" rx="0.5"/>
<rect x="472.85" y="60.71" width="3.9" height="3.9" rx="0.5"/>
<rect x="464.85" y="61.63" width="3.9" height="3.9" rx="0.5"/>
<rect x="464.54" y="62.46" width="3.9" height="3.9" rx="0.5"/>
<rect x="468.85" y="62.85" width="3.9" height="3.9" rx="0.5"/>
<rect x="465.44" y="63.47" width="3.9" height="3.9" rx="0.5"/>
<rect x="472.15" y="64" width="3.9" height="3.9" rx="0.5"/>
<rect x="469.62" y="64.54" width="3.9" height="3.9" rx="0.5"/>
<rect x="473.02" y="65.25" width="3.9" height="3.9" rx="0.5"/>
<rect x="464.17" y="65.61" width="3.9" height="3.9" rx="0.5"/>
<rect x="466.11" y="66.33" width="3.9" height="3.9" rx="0.5"/>
<rect x="469.47" y="66.82" width="3.9" height="3.9" rx="0.5"/>
<rect x="465.06" y="67.49" width="3.9" height="3.9" rx="0.5"/>
<rect x="464.6" y="68.22" width="3.9" height="3.9" rx="0.5"/>
<rect x="473.35" y="69.11" width="3.9" height="3.9" rx="0.5"/>
<rect x="471.6" y="69.78" width="3.9" height="3.9" rx="0.5"/>
<rect x="470.8" y="70.31" width="3.9" height="3.9" rx="0.5"/>
<rect x="468.99" y="71.33" width="3.9" height="3.9" rx="0.5"/>
<rect x="465.35" y="72.25" width="3.9" height="3.9" rx="0.5"/>
<rect x="472.85" y="73.94" width="3.9" height="3.9" rx="0.5"/>
<rect x="468.59" y="75.41" width="3.9" height="3.9" rx="0.5"/>
<rect x="472.35" y="77.77" width="3.9" height="3.9" rx="0.5"/>
<rect x="468.85" y="83.05" width="3.9" height="3.9" rx="0.5"/>
<rect x="468.85" y="88.43" width="3.9" height="3.9" rx="0.5"/>
<rect x="472.85" y="90.47" width="3.9" height="3.9" rx="0.5"/>
<rect x="464.85" y="91.37" width="3.9" height="3.9" rx="0.5"/>
<rect x="468.85" y="92.26" width="3.9" height="3.9" rx="0.5"/>
<rect x="473.57" y="92.65" width="3.9" height="3.9" rx="0.5"/>
<rect x="469.67" y="93.27" width="3.9" height="3.9" rx="0.5"/>
<rect x="473.54" y="94.13" width="3.9" height="3.9" rx="0.5"/>
<rect x="467.42" y="94.89" width="3.9" height="3.9" rx="0.5"/>
<rect x="463.35" y="95.64" width="3.9" height="3.9" rx="0.5"/>
<rect x="463.73" y="97.38" width="3.9" height="3.9" rx="0.5"/>
<rect x="468.85" y="102.05" width="3.9" height="3.9" rx="0.5"/>
<rect x="467.65" y="105.55" width="3.9" height="3.9" rx="0.5"/>
<rect x="469.03" y="109.05" width="3.9" height="3.9" rx="0.5"/>
<rect x="468.85" y="125.05" width="3.9" height="3.9" rx="0.5"/>
</g>
<g fill="#22c0ff" stroke="#1e52f5" stroke-width="1.1">
<rect x="490.35" y="59.39" width="3.9" height="3.9" rx="0.5"/>
<rect x="494.35" y="60.09" width="3.9" height="3.9" rx="0.5"/>
<rect x="486.35" y="61.78" width="3.9" height="3.9" rx="0.5"/>
<rect x="489.36" y="62.39" width="3.9" height="3.9" rx="0.5"/>
<rect x="485.36" y="63.59" width="3.9" height="3.9" rx="0.5"/>
<rect x="493.35" y="63.9" width="3.9" height="3.9" rx="0.5"/>
<rect x="485.72" y="64.9" width="3.9" height="3.9" rx="0.5"/>
<rect x="493.03" y="65.43" width="3.9" height="3.9" rx="0.5"/>
<rect x="489.35" y="66.05" width="3.9" height="3.9" rx="0.5"/>
<rect x="485.74" y="66.62" width="3.9" height="3.9" rx="0.5"/>
<rect x="489.54" y="66.9" width="3.9" height="3.9" rx="0.5"/>
<rect x="491.48" y="67.42" width="3.9" height="3.9" rx="0.5"/>
<rect x="488.4" y="68.05" width="3.9" height="3.9" rx="0.5"/>
<rect x="484.85" y="68.45" width="3.9" height="3.9" rx="0.5"/>
<rect x="494.97" y="69" width="3.9" height="3.9" rx="0.5"/>
<rect x="494.66" y="69.58" width="3.9" height="3.9" rx="0.5"/>
<rect x="486.7" y="70.45" width="3.9" height="3.9" rx="0.5"/>
<rect x="487.23" y="71.14" width="3.9" height="3.9" rx="0.5"/>
<rect x="490.85" y="71.84" width="3.9" height="3.9" rx="0.5"/>
<rect x="489.42" y="72.37" width="3.9" height="3.9" rx="0.5"/>
<rect x="494.85" y="73.64" width="3.9" height="3.9" rx="0.5"/>
<rect x="492.6" y="74.43" width="3.9" height="3.9" rx="0.5"/>
<rect x="485.35" y="75.46" width="3.9" height="3.9" rx="0.5"/>
<rect x="485.41" y="77.47" width="3.9" height="3.9" rx="0.5"/>
<rect x="490.35" y="82.05" width="3.9" height="3.9" rx="0.5"/>
<rect x="489.31" y="85.05" width="3.9" height="3.9" rx="0.5"/>
<rect x="490.35" y="89.07" width="3.9" height="3.9" rx="0.5"/>
<rect x="494.35" y="90.87" width="3.9" height="3.9" rx="0.5"/>
<rect x="486.35" y="91.95" width="3.9" height="3.9" rx="0.5"/>
<rect x="490.35" y="92.88" width="3.9" height="3.9" rx="0.5"/>
<rect x="489.2" y="93.65" width="3.9" height="3.9" rx="0.5"/>
<rect x="494.35" y="94.48" width="3.9" height="3.9" rx="0.5"/>
<rect x="488.77" y="95.07" width="3.9" height="3.9" rx="0.5"/>
<rect x="484.85" y="96.18" width="3.9" height="3.9" rx="0.5"/>
<rect x="493.14" y="96.86" width="3.9" height="3.9" rx="0.5"/>
<rect x="490.28" y="98.59" width="3.9" height="3.9" rx="0.5"/>
<rect x="490.35" y="106.55" width="3.9" height="3.9" rx="0.5"/>
<rect x="489.82" y="110.05" width="3.9" height="3.9" rx="0.5"/>
<rect x="489.46" y="113.55" width="3.9" height="3.9" rx="0.5"/>
<rect x="491.27" y="117.05" width="3.9" height="3.9" rx="0.5"/>
<rect x="490.35" y="124.55" width="3.9" height="3.9" rx="0.5"/>
<rect x="489.43" y="128.05" width="3.9" height="3.9" rx="0.5"/>
<rect x="490.35" y="132.05" width="3.9" height="3.9" rx="0.5"/>
<rect x="489.99" y="135.05" width="3.9" height="3.9" rx="0.5"/>
</g>
<line x1="414.2" y1="52.9" x2="414.2" y2="146" stroke="#1a1a1a" stroke-width="1.15"/>
<line x1="410.2" y1="146" x2="507" y2="146" stroke="#1a1a1a" stroke-width="1.15"/>
<line x1="428.3" y1="146" x2="428.3" y2="149.5" stroke="#1a1a1a" stroke-width="1.15"/>
<line x1="449.6" y1="146" x2="449.6" y2="149.5" stroke="#1a1a1a" stroke-width="1.15"/>
<line x1="470.8" y1="146" x2="470.8" y2="149.5" stroke="#1a1a1a" stroke-width="1.15"/>
<line x1="492.3" y1="146" x2="492.3" y2="149.5" stroke="#1a1a1a" stroke-width="1.15"/>
<text transform="translate(432.8,158.9) rotate(-45) scale(0.92,1)" text-anchor="end" font-size="10.3" font-weight="bold">Control</text>
<text transform="translate(454.1,158.9) rotate(-45) scale(0.92,1)" text-anchor="end" font-size="10.3" font-weight="bold">Mild</text>
<text transform="translate(475.3,158.9) rotate(-45) scale(0.92,1)" text-anchor="end" font-size="10.3" font-weight="bold">Moderate</text>
<text transform="translate(496.8,158.9) rotate(-45) scale(0.92,1)" text-anchor="end" font-size="10.3" font-weight="bold">Severe</text>
<text x="523.1" y="7.8" font-size="14" font-weight="bold">g</text>
<text transform="translate(544.6,105.5) rotate(-90) scale(0.924,1)" text-anchor="middle" font-size="10.6"><tspan font-weight="bold">%CTLA4</tspan> (Among CD4+</text>
<text transform="translate(556.6,105.5) rotate(-90) scale(0.924,1)" text-anchor="middle" font-size="10.6">FOXP3- Cells)</text>
<line x1="587.8" y1="145.7" x2="591.8" y2="145.7" stroke="#1a1a1a" stroke-width="1.15"/>
<text transform="translate(583.8,148.9) scale(0.918,1)" text-anchor="end" font-size="10.4" font-weight="bold">0.01</text>
<line x1="587.8" y1="125.62" x2="591.8" y2="125.62" stroke="#1a1a1a" stroke-width="1.15"/>
<text transform="translate(583.8,128.82) scale(0.918,1)" text-anchor="end" font-size="10.4" font-weight="bold">0.1</text>
<line x1="587.8" y1="105.55" x2="591.8" y2="105.55" stroke="#1a1a1a" stroke-width="1.15"/>
<text transform="translate(583.8,108.75) scale(0.918,1)" text-anchor="end" font-size="10.4" font-weight="bold">1</text>
<line x1="587.8" y1="85.47" x2="591.8" y2="85.47" stroke="#1a1a1a" stroke-width="1.15"/>
<text transform="translate(583.8,88.67) scale(0.918,1)" text-anchor="end" font-size="10.4" font-weight="bold">10</text>
<line x1="587.8" y1="65.4" x2="591.8" y2="65.4" stroke="#1a1a1a" stroke-width="1.15"/>
<text transform="translate(583.8,68.6) scale(0.918,1)" text-anchor="end" font-size="10.4" font-weight="bold">100</text>
<path d="M598.8,145.7V111H609.8V145.7" fill="none" stroke="#3d1a6c" stroke-width="1.5"/>
<path d="M616.7,145.7V94.7H627.7V145.7" fill="none" stroke="#ff5a14" stroke-width="1.5"/>
<path d="M635.3,145.7V95H646.3V145.7" fill="none" stroke="#217f86" stroke-width="1.5"/>
<path d="M653.9,145.7V84H664.9V145.7" fill="none" stroke="#2356fa" stroke-width="1.5"/>
<line x1="622.2" y1="89.6" x2="622.2" y2="94.7" stroke="#ff5a14" stroke-width="1"/>
<line x1="619.2" y1="89.6" x2="625.2" y2="89.6" stroke="#ff5a14" stroke-width="1"/>
<line x1="619.2" y1="94.7" x2="625.2" y2="94.7" stroke="#ff5a14" stroke-width="1"/>
<line x1="640.8" y1="95" x2="640.8" y2="108.2" stroke="#217f86" stroke-width="1"/>
<line x1="637.8" y1="95" x2="643.8" y2="95" stroke="#217f86" stroke-width="1"/>
<line x1="637.8" y1="108.2" x2="643.8" y2="108.2" stroke="#217f86" stroke-width="1"/>
<g fill="#a48ae0" stroke="#3c1872" stroke-width="1.1">
<rect x="602.35" y="98.05" width="3.9" height="3.9" rx="0.5"/>
<rect x="602.67" y="101.05" width="3.9" height="3.9" rx="0.5"/>
<rect x="598.85" y="103.42" width="3.9" height="3.9" rx="0.5"/>
<rect x="606.35" y="104.27" width="3.9" height="3.9" rx="0.5"/>
<rect x="599.77" y="105.06" width="3.9" height="3.9" rx="0.5"/>
<rect x="602.46" y="105.49" width="3.9" height="3.9" rx="0.5"/>
<rect x="604.65" y="106.42" width="3.9" height="3.9" rx="0.5"/>
<rect x="601.07" y="107.11" width="3.9" height="3.9" rx="0.5"/>
<rect x="598.56" y="107.81" width="3.9" height="3.9" rx="0.5"/>
<rect x="605.78" y="108.3" width="3.9" height="3.9" rx="0.5"/>
<rect x="601.53" y="108.98" width="3.9" height="3.9" rx="0.5"/>
<rect x="599.26" y="109.86" width="3.9" height="3.9" rx="0.5"/>
<rect x="603.55" y="110.74" width="3.9" height="3.9" rx="0.5"/>
<rect x="604.92" y="111.25" width="3.9" height="3.9" rx="0.5"/>
<rect x="599.25" y="112.08" width="3.9" height="3.9" rx="0.5"/>
<rect x="598.9" y="112.72" width="3.9" height="3.9" rx="0.5"/>
<rect x="602.04" y="113.67" width="3.9" height="3.9" rx="0.5"/>
<rect x="605.82" y="114.44" width="3.9" height="3.9" rx="0.5"/>
<rect x="598.12" y="114.92" width="3.9" height="3.9" rx="0.5"/>
<rect x="603.56" y="115.9" width="3.9" height="3.9" rx="0.5"/>
<rect x="600.86" y="116.93" width="3.9" height="3.9" rx="0.5"/>
<rect x="601.02" y="118.94" width="3.9" height="3.9" rx="0.5"/>
<rect x="604.85" y="120.81" width="3.9" height="3.9" rx="0.5"/>
<rect x="599.94" y="121.83" width="3.9" height="3.9" rx="0.5"/>
<rect x="602.11" y="124.04" width="3.9" height="3.9" rx="0.5"/>
<rect x="600.14" y="125.69" width="3.9" height="3.9" rx="0.5"/>
<rect x="600.06" y="127.36" width="3.9" height="3.9" rx="0.5"/>
</g>
<g fill="#ffab8c" stroke="#ff5200" stroke-width="1.1">
<rect x="620.25" y="76.55" width="3.9" height="3.9" rx="0.5"/>
<rect x="619.16" y="80.05" width="3.9" height="3.9" rx="0.5"/>
<rect x="620.25" y="89.91" width="3.9" height="3.9" rx="0.5"/>
<rect x="624.25" y="92.28" width="3.9" height="3.9" rx="0.5"/>
<rect x="616.25" y="93.24" width="3.9" height="3.9" rx="0.5"/>
<rect x="620.25" y="94.15" width="3.9" height="3.9" rx="0.5"/>
<rect x="624.95" y="95.15" width="3.9" height="3.9" rx="0.5"/>
<rect x="618.33" y="95.9" width="3.9" height="3.9" rx="0.5"/>
<rect x="623.52" y="96.58" width="3.9" height="3.9" rx="0.5"/>
<rect x="620.32" y="97.21" width="3.9" height="3.9" rx="0.5"/>
<rect x="623.28" y="97.73" width="3.9" height="3.9" rx="0.5"/>
<rect x="616.44" y="98.29" width="3.9" height="3.9" rx="0.5"/>
<rect x="624.95" y="98.96" width="3.9" height="3.9" rx="0.5"/>
<rect x="624.42" y="99.35" width="3.9" height="3.9" rx="0.5"/>
<rect x="623.82" y="99.94" width="3.9" height="3.9" rx="0.5"/>
<rect x="617.99" y="100.48" width="3.9" height="3.9" rx="0.5"/>
<rect x="621.93" y="101.02" width="3.9" height="3.9" rx="0.5"/>
<rect x="618.44" y="101.58" width="3.9" height="3.9" rx="0.5"/>
<rect x="624.61" y="101.89" width="3.9" height="3.9" rx="0.5"/>
<rect x="617.04" y="102.46" width="3.9" height="3.9" rx="0.5"/>
<rect x="622.78" y="103.23" width="3.9" height="3.9" rx="0.5"/>
<rect x="621.72" y="103.79" width="3.9" height="3.9" rx="0.5"/>
<rect x="615.94" y="104.29" width="3.9" height="3.9" rx="0.5"/>
<rect x="615.54" y="105.17" width="3.9" height="3.9" rx="0.5"/>
<rect x="624.3" y="105.99" width="3.9" height="3.9" rx="0.5"/>
<rect x="623" y="106.76" width="3.9" height="3.9" rx="0.5"/>
<rect x="624.92" y="107.28" width="3.9" height="3.9" rx="0.5"/>
<rect x="619.25" y="108.23" width="3.9" height="3.9" rx="0.5"/>
<rect x="615.25" y="109.06" width="3.9" height="3.9" rx="0.5"/>
<rect x="623.25" y="110.95" width="3.9" height="3.9" rx="0.5"/>
<rect x="618.42" y="111.75" width="3.9" height="3.9" rx="0.5"/>
<rect x="622.25" y="114.58" width="3.9" height="3.9" rx="0.5"/>
</g>
<g fill="#78cdd3" stroke="#288b94" stroke-width="1.1">
<rect x="638.85" y="72.68" width="3.9" height="3.9" rx="0.5"/>
<rect x="638.31" y="74.68" width="3.9" height="3.9" rx="0.5"/>
<rect x="637.02" y="76.25" width="3.9" height="3.9" rx="0.5"/>
<rect x="639.7" y="78.11" width="3.9" height="3.9" rx="0.5"/>
<rect x="637.87" y="79.85" width="3.9" height="3.9" rx="0.5"/>
<rect x="637.87" y="82.4" width="3.9" height="3.9" rx="0.5"/>
<rect x="638.88" y="83.48" width="3.9" height="3.9" rx="0.5"/>
<rect x="642.85" y="85.04" width="3.9" height="3.9" rx="0.5"/>
<rect x="633.85" y="85.74" width="3.9" height="3.9" rx="0.5"/>
<rect x="642.23" y="86.28" width="3.9" height="3.9" rx="0.5"/>
<rect x="639.04" y="86.93" width="3.9" height="3.9" rx="0.5"/>
<rect x="638.98" y="87.53" width="3.9" height="3.9" rx="0.5"/>
<rect x="643.62" y="88.42" width="3.9" height="3.9" rx="0.5"/>
<rect x="641.98" y="88.79" width="3.9" height="3.9" rx="0.5"/>
<rect x="635.35" y="89.39" width="3.9" height="3.9" rx="0.5"/>
<rect x="635.32" y="90.08" width="3.9" height="3.9" rx="0.5"/>
<rect x="639.4" y="90.73" width="3.9" height="3.9" rx="0.5"/>
<rect x="637.45" y="91.41" width="3.9" height="3.9" rx="0.5"/>
<rect x="643.79" y="92.03" width="3.9" height="3.9" rx="0.5"/>
<rect x="635.73" y="92.62" width="3.9" height="3.9" rx="0.5"/>
<rect x="639.62" y="93.36" width="3.9" height="3.9" rx="0.5"/>
<rect x="640.67" y="94" width="3.9" height="3.9" rx="0.5"/>
<rect x="637.07" y="94.75" width="3.9" height="3.9" rx="0.5"/>
<rect x="639.67" y="95.96" width="3.9" height="3.9" rx="0.5"/>
<rect x="639.39" y="97.56" width="3.9" height="3.9" rx="0.5"/>
<rect x="640.55" y="98.82" width="3.9" height="3.9" rx="0.5"/>
<rect x="638.94" y="100.31" width="3.9" height="3.9" rx="0.5"/>
</g>
<g fill="#22c0ff" stroke="#1e52f5" stroke-width="1.1">
<rect x="657.45" y="70.91" width="3.9" height="3.9" rx="0.5"/>
<rect x="658.06" y="72.5" width="3.9" height="3.9" rx="0.5"/>
<rect x="655.59" y="74.43" width="3.9" height="3.9" rx="0.5"/>
<rect x="661.95" y="75.64" width="3.9" height="3.9" rx="0.5"/>
<rect x="651.95" y="76.33" width="3.9" height="3.9" rx="0.5"/>
<rect x="658.09" y="77.16" width="3.9" height="3.9" rx="0.5"/>
<rect x="654.27" y="78.01" width="3.9" height="3.9" rx="0.5"/>
<rect x="657.38" y="78.5" width="3.9" height="3.9" rx="0.5"/>
<rect x="661.95" y="79.47" width="3.9" height="3.9" rx="0.5"/>
<rect x="662.17" y="80.39" width="3.9" height="3.9" rx="0.5"/>
<rect x="656.12" y="81.16" width="3.9" height="3.9" rx="0.5"/>
<rect x="652.45" y="81.81" width="3.9" height="3.9" rx="0.5"/>
<rect x="662.23" y="82.41" width="3.9" height="3.9" rx="0.5"/>
<rect x="657.69" y="83.32" width="3.9" height="3.9" rx="0.5"/>
<rect x="658.13" y="84.39" width="3.9" height="3.9" rx="0.5"/>
<rect x="659.44" y="84.76" width="3.9" height="3.9" rx="0.5"/>
<rect x="653.95" y="85.65" width="3.9" height="3.9" rx="0.5"/>
<rect x="661.78" y="86.74" width="3.9" height="3.9" rx="0.5"/>
<rect x="658.79" y="87.3" width="3.9" height="3.9" rx="0.5"/>
<rect x="660.97" y="87.97" width="3.9" height="3.9" rx="0.5"/>
<rect x="660.28" y="88.82" width="3.9" height="3.9" rx="0.5"/>
<rect x="654.95" y="89.89" width="3.9" height="3.9" rx="0.5"/>
<rect x="659.02" y="90.41" width="3.9" height="3.9" rx="0.5"/>
<rect x="659.12" y="91.24" width="3.9" height="3.9" rx="0.5"/>
<rect x="662.61" y="92.13" width="3.9" height="3.9" rx="0.5"/>
<rect x="660.12" y="93.01" width="3.9" height="3.9" rx="0.5"/>
<rect x="654.95" y="93.65" width="3.9" height="3.9" rx="0.5"/>
<rect x="660.81" y="95.17" width="3.9" height="3.9" rx="0.5"/>
<rect x="660.6" y="96.47" width="3.9" height="3.9" rx="0.5"/>
<rect x="656.95" y="98.04" width="3.9" height="3.9" rx="0.5"/>
<rect x="660.86" y="99.66" width="3.9" height="3.9" rx="0.5"/>
<rect x="661.37" y="100.58" width="3.9" height="3.9" rx="0.5"/>
<rect x="656.95" y="102.42" width="3.9" height="3.9" rx="0.5"/>
<rect x="656.74" y="104.16" width="3.9" height="3.9" rx="0.5"/>
<rect x="660.95" y="105.63" width="3.9" height="3.9" rx="0.5"/>
<rect x="661.24" y="106.87" width="3.9" height="3.9" rx="0.5"/>
<rect x="656.95" y="108" width="3.9" height="3.9" rx="0.5"/>
<rect x="659.15" y="111.03" width="3.9" height="3.9" rx="0.5"/>
<rect x="655.45" y="113.35" width="3.9" height="3.9" rx="0.5"/>
<rect x="659.45" y="116.14" width="3.9" height="3.9" rx="0.5"/>
</g>
<line x1="591.8" y1="64.9" x2="591.8" y2="145.7" stroke="#1a1a1a" stroke-width="1.15"/>
<line x1="588" y1="145.7" x2="671.7" y2="145.7" stroke="#1a1a1a" stroke-width="1.15"/>
<line x1="604.3" y1="145.7" x2="604.3" y2="149.2" stroke="#1a1a1a" stroke-width="1.15"/>
<line x1="622.2" y1="145.7" x2="622.2" y2="149.2" stroke="#1a1a1a" stroke-width="1.15"/>
<line x1="640.8" y1="145.7" x2="640.8" y2="149.2" stroke="#1a1a1a" stroke-width="1.15"/>
<line x1="659.4" y1="145.7" x2="659.4" y2="149.2" stroke="#1a1a1a" stroke-width="1.15"/>
<text transform="translate(608.8,158.6) rotate(-45) scale(0.92,1)" text-anchor="end" font-size="10.3" font-weight="bold">Control</text>
<text transform="translate(626.7,158.6) rotate(-45) scale(0.92,1)" text-anchor="end" font-size="10.3" font-weight="bold">Mild</text>
<text transform="translate(645.3,158.6) rotate(-45) scale(0.92,1)" text-anchor="end" font-size="10.3" font-weight="bold">Moderate</text>
<text transform="translate(663.9,158.6) rotate(-45) scale(0.92,1)" text-anchor="end" font-size="10.3" font-weight="bold">Severe</text>
<line x1="604.4" y1="12.5" x2="659.4" y2="12.5" stroke="#1e1e1e" stroke-width="1.05"/>
<use href="#st" x="622.6" y="7.9"/>
<use href="#st" x="627.25" y="7.9"/>
<use href="#st" x="631.9" y="7.9"/>
<use href="#st" x="636.55" y="7.9"/>
<line x1="604.4" y1="29.5" x2="640.9" y2="29.5" stroke="#1e1e1e" stroke-width="1.05"/>
<use href="#st" x="611.3" y="24.8"/>
<use href="#st" x="615.95" y="24.8"/>
<use href="#st" x="620.6" y="24.8"/>
<use href="#st" x="625.25" y="24.8"/>
<line x1="622.9" y1="46.5" x2="640.9" y2="46.5" stroke="#1e1e1e" stroke-width="1.05"/>
<use href="#st" x="622.4" y="42.8"/>
<use href="#st" x="627.05" y="42.8"/>
<use href="#st" x="631.7" y="42.8"/>
<use href="#st" x="636.35" y="42.8"/>
<line x1="604.4" y1="63.5" x2="620.7" y2="63.5" stroke="#1e1e1e" stroke-width="1.05"/>
<use href="#st" x="608.1" y="59.4"/>
<use href="#st" x="612.75" y="59.4"/>
<use href="#st" x="617.4" y="59.4"/>
<line x1="624.3" y1="63.5" x2="659.4" y2="63.5" stroke="#1e1e1e" stroke-width="1.05"/>
<use href="#st" x="638.3" y="59.4"/>
<use href="#st" x="642.95" y="59.4"/>
<text x="1" y="212.2" font-size="14" font-weight="bold">b</text>
<text transform="translate(7.6,306.6) rotate(-90) scale(0.924,1)" text-anchor="middle" font-size="10.6"><tspan font-weight="bold">#TIM3</tspan> (Among CD4+</text>
<text transform="translate(19.8,304.6) rotate(-90) scale(0.924,1)" text-anchor="middle" font-size="10.6">FOXP3- Cells)</text>
<line x1="69.6" y1="347.5" x2="73.6" y2="347.5" stroke="#1a1a1a" stroke-width="1.15"/>
<text transform="translate(65,350.7) scale(0.918,1)" text-anchor="end" font-size="10.4" font-weight="bold">10</text>
<line x1="69.6" y1="326.6" x2="73.6" y2="326.6" stroke="#1a1a1a" stroke-width="1.15"/>
<text transform="translate(65,329.8) scale(0.918,1)" text-anchor="end" font-size="10.4" font-weight="bold">100</text>
<line x1="69.6" y1="305.7" x2="73.6" y2="305.7" stroke="#1a1a1a" stroke-width="1.15"/>
<text transform="translate(65,308.9) scale(0.918,1)" text-anchor="end" font-size="10.4" font-weight="bold">1000</text>
<line x1="69.6" y1="284.8" x2="73.6" y2="284.8" stroke="#1a1a1a" stroke-width="1.15"/>
<text transform="translate(65,288) scale(0.918,1)" text-anchor="end" font-size="10.4" font-weight="bold">10,000</text>
<line x1="69.6" y1="263.9" x2="73.6" y2="263.9" stroke="#1a1a1a" stroke-width="1.15"/>
<text transform="translate(65,267.1) scale(0.918,1)" text-anchor="end" font-size="10.4" font-weight="bold">100,000</text>
<path d="M80.25,347.5V282H91.95V347.5" fill="none" stroke="#3d1a6c" stroke-width="1.5"/>
<path d="M99.45,347.5V285.5H111.15V347.5" fill="none" stroke="#ff5a14" stroke-width="1.5"/>
<path d="M118.75,347.5V290H130.45V347.5" fill="none" stroke="#217f86" stroke-width="1.5"/>
<path d="M138.05,347.5V297H149.75V347.5" fill="none" stroke="#2356fa" stroke-width="1.5"/>
<line x1="105.3" y1="270" x2="105.3" y2="345.2" stroke="#ff5a14" stroke-width="1"/>
<line x1="102.3" y1="270" x2="108.3" y2="270" stroke="#ff5a14" stroke-width="1"/>
<line x1="102.3" y1="345.2" x2="108.3" y2="345.2" stroke="#ff5a14" stroke-width="1"/>
<line x1="143.9" y1="285" x2="143.9" y2="335" stroke="#2356fa" stroke-width="1"/>
<line x1="140.9" y1="285" x2="146.9" y2="285" stroke="#2356fa" stroke-width="1"/>
<line x1="140.9" y1="335" x2="146.9" y2="335" stroke="#2356fa" stroke-width="1"/>
<g fill="#a48ae0" stroke="#3c1872" stroke-width="1.1">
<rect x="84.15" y="272.11" width="3.9" height="3.9" rx="0.5"/>
<rect x="88.15" y="273.9" width="3.9" height="3.9" rx="0.5"/>
<rect x="80.15" y="274.73" width="3.9" height="3.9" rx="0.5"/>
<rect x="84.73" y="275.38" width="3.9" height="3.9" rx="0.5"/>
<rect x="84.92" y="275.91" width="3.9" height="3.9" rx="0.5"/>
<rect x="83.7" y="276.66" width="3.9" height="3.9" rx="0.5"/>
<rect x="84.8" y="277.17" width="3.9" height="3.9" rx="0.5"/>
<rect x="88.65" y="277.6" width="3.9" height="3.9" rx="0.5"/>
<rect x="82.48" y="278.14" width="3.9" height="3.9" rx="0.5"/>
<rect x="86.07" y="278.6" width="3.9" height="3.9" rx="0.5"/>
<rect x="86.42" y="279.09" width="3.9" height="3.9" rx="0.5"/>
<rect x="86.33" y="279.82" width="3.9" height="3.9" rx="0.5"/>
<rect x="81.21" y="280.52" width="3.9" height="3.9" rx="0.5"/>
<rect x="80.52" y="280.96" width="3.9" height="3.9" rx="0.5"/>
<rect x="85.27" y="281.93" width="3.9" height="3.9" rx="0.5"/>
<rect x="85.2" y="282.41" width="3.9" height="3.9" rx="0.5"/>
<rect x="85.66" y="283.16" width="3.9" height="3.9" rx="0.5"/>
<rect x="83.28" y="283.87" width="3.9" height="3.9" rx="0.5"/>
<rect x="79.65" y="285.25" width="3.9" height="3.9" rx="0.5"/>
<rect x="88.57" y="286.08" width="3.9" height="3.9" rx="0.5"/>
<rect x="79.96" y="287.28" width="3.9" height="3.9" rx="0.5"/>
<rect x="84.15" y="288.35" width="3.9" height="3.9" rx="0.5"/>
<rect x="84.45" y="289.32" width="3.9" height="3.9" rx="0.5"/>
<rect x="88.15" y="291.72" width="3.9" height="3.9" rx="0.5"/>
<rect x="84.15" y="311.75" width="3.9" height="3.9" rx="0.5"/>
</g>
<g fill="#ffab8c" stroke="#ff5200" stroke-width="1.1">
<rect x="103.35" y="266.51" width="3.9" height="3.9" rx="0.5"/>
<rect x="107.35" y="267.27" width="3.9" height="3.9" rx="0.5"/>
<rect x="99.35" y="268.34" width="3.9" height="3.9" rx="0.5"/>
<rect x="106.2" y="269.73" width="3.9" height="3.9" rx="0.5"/>
<rect x="107.83" y="270.11" width="3.9" height="3.9" rx="0.5"/>
<rect x="106.56" y="270.78" width="3.9" height="3.9" rx="0.5"/>
<rect x="106.64" y="271.6" width="3.9" height="3.9" rx="0.5"/>
<rect x="102.35" y="272.06" width="3.9" height="3.9" rx="0.5"/>
<rect x="98.35" y="272.77" width="3.9" height="3.9" rx="0.5"/>
<rect x="99.81" y="273.07" width="3.9" height="3.9" rx="0.5"/>
<rect x="104.25" y="273.78" width="3.9" height="3.9" rx="0.5"/>
<rect x="98.71" y="274.09" width="3.9" height="3.9" rx="0.5"/>
<rect x="108.19" y="274.69" width="3.9" height="3.9" rx="0.5"/>
<rect x="101.41" y="275.32" width="3.9" height="3.9" rx="0.5"/>
<rect x="98.6" y="275.78" width="3.9" height="3.9" rx="0.5"/>
<rect x="106.05" y="276.4" width="3.9" height="3.9" rx="0.5"/>
<rect x="101.2" y="276.89" width="3.9" height="3.9" rx="0.5"/>
<rect x="102.23" y="277.23" width="3.9" height="3.9" rx="0.5"/>
<rect x="103.6" y="278.11" width="3.9" height="3.9" rx="0.5"/>
<rect x="105.48" y="278.6" width="3.9" height="3.9" rx="0.5"/>
<rect x="105.54" y="279.12" width="3.9" height="3.9" rx="0.5"/>
<rect x="103.25" y="279.7" width="3.9" height="3.9" rx="0.5"/>
<rect x="98.35" y="280.61" width="3.9" height="3.9" rx="0.5"/>
<rect x="102.7" y="281.18" width="3.9" height="3.9" rx="0.5"/>
<rect x="103.54" y="282.04" width="3.9" height="3.9" rx="0.5"/>
<rect x="102.96" y="282.69" width="3.9" height="3.9" rx="0.5"/>
<rect x="107.35" y="283.54" width="3.9" height="3.9" rx="0.5"/>
<rect x="105.72" y="284.15" width="3.9" height="3.9" rx="0.5"/>
<rect x="99.35" y="285.04" width="3.9" height="3.9" rx="0.5"/>
<rect x="101.54" y="285.87" width="3.9" height="3.9" rx="0.5"/>
<rect x="100.36" y="286.6" width="3.9" height="3.9" rx="0.5"/>
<rect x="105.35" y="288.01" width="3.9" height="3.9" rx="0.5"/>
<rect x="106.81" y="288.67" width="3.9" height="3.9" rx="0.5"/>
<rect x="108.25" y="290.17" width="3.9" height="3.9" rx="0.5"/>
<rect x="102.85" y="291.66" width="3.9" height="3.9" rx="0.5"/>
<rect x="98.85" y="292.94" width="3.9" height="3.9" rx="0.5"/>
<rect x="106.85" y="294.21" width="3.9" height="3.9" rx="0.5"/>
<rect x="103.35" y="298.16" width="3.9" height="3.9" rx="0.5"/>
<rect x="103.35" y="304.35" width="3.9" height="3.9" rx="0.5"/>
<rect x="103.35" y="308.05" width="3.9" height="3.9" rx="0.5"/>
<rect x="103.35" y="311.75" width="3.9" height="3.9" rx="0.5"/>
<rect x="103.27" y="315.05" width="3.9" height="3.9" rx="0.5"/>
<rect x="103.35" y="327.05" width="3.9" height="3.9" rx="0.5"/>
</g>
<g fill="#78cdd3" stroke="#288b94" stroke-width="1.1">
<rect x="122.65" y="266.85" width="3.9" height="3.9" rx="0.5"/>
<rect x="122.65" y="275.55" width="3.9" height="3.9" rx="0.5"/>
<rect x="122.65" y="279.55" width="3.9" height="3.9" rx="0.5"/>
<rect x="122.65" y="288.19" width="3.9" height="3.9" rx="0.5"/>
<rect x="123.43" y="290.07" width="3.9" height="3.9" rx="0.5"/>
<rect x="125.41" y="291.4" width="3.9" height="3.9" rx="0.5"/>
<rect x="121.24" y="292" width="3.9" height="3.9" rx="0.5"/>
<rect x="120.74" y="293.35" width="3.9" height="3.9" rx="0.5"/>
<rect x="123.97" y="294.17" width="3.9" height="3.9" rx="0.5"/>
<rect x="120.47" y="295.06" width="3.9" height="3.9" rx="0.5"/>
<rect x="121.3" y="295.65" width="3.9" height="3.9" rx="0.5"/>
<rect x="123.52" y="296.41" width="3.9" height="3.9" rx="0.5"/>
<rect x="120.77" y="297.23" width="3.9" height="3.9" rx="0.5"/>
<rect x="120.57" y="297.87" width="3.9" height="3.9" rx="0.5"/>
<rect x="124.53" y="298.72" width="3.9" height="3.9" rx="0.5"/>
<rect x="122.82" y="299.3" width="3.9" height="3.9" rx="0.5"/>
<rect x="122.35" y="300.13" width="3.9" height="3.9" rx="0.5"/>
<rect x="121.57" y="301.27" width="3.9" height="3.9" rx="0.5"/>
<rect x="120.13" y="301.98" width="3.9" height="3.9" rx="0.5"/>
<rect x="120.07" y="302.93" width="3.9" height="3.9" rx="0.5"/>
<rect x="121.01" y="304" width="3.9" height="3.9" rx="0.5"/>
<rect x="121.51" y="304.76" width="3.9" height="3.9" rx="0.5"/>
<rect x="125.15" y="305.61" width="3.9" height="3.9" rx="0.5"/>
<rect x="122.67" y="307.18" width="3.9" height="3.9" rx="0.5"/>
<rect x="123.01" y="308.23" width="3.9" height="3.9" rx="0.5"/>
<rect x="121.37" y="309.57" width="3.9" height="3.9" rx="0.5"/>
<rect x="123.43" y="310.94" width="3.9" height="3.9" rx="0.5"/>
<rect x="123.73" y="312.88" width="3.9" height="3.9" rx="0.5"/>
<rect x="120.56" y="314.04" width="3.9" height="3.9" rx="0.5"/>
<rect x="124.65" y="316.83" width="3.9" height="3.9" rx="0.5"/>
<rect x="120.65" y="319.31" width="3.9" height="3.9" rx="0.5"/>
<rect x="122.65" y="339.05" width="3.9" height="3.9" rx="0.5"/>
</g>
<g fill="#22c0ff" stroke="#1e52f5" stroke-width="1.1">
<rect x="141.95" y="284.44" width="3.9" height="3.9" rx="0.5"/>
<rect x="145.95" y="285.79" width="3.9" height="3.9" rx="0.5"/>
<rect x="137.95" y="286.36" width="3.9" height="3.9" rx="0.5"/>
<rect x="146.68" y="287.53" width="3.9" height="3.9" rx="0.5"/>
<rect x="138.49" y="287.94" width="3.9" height="3.9" rx="0.5"/>
<rect x="140.69" y="288.95" width="3.9" height="3.9" rx="0.5"/>
<rect x="146.92" y="289.48" width="3.9" height="3.9" rx="0.5"/>
<rect x="144.09" y="290.63" width="3.9" height="3.9" rx="0.5"/>
<rect x="143.97" y="291.17" width="3.9" height="3.9" rx="0.5"/>
<rect x="136.95" y="292.32" width="3.9" height="3.9" rx="0.5"/>
<rect x="137.68" y="293.22" width="3.9" height="3.9" rx="0.5"/>
<rect x="137.86" y="294.15" width="3.9" height="3.9" rx="0.5"/>
<rect x="141.95" y="294.9" width="3.9" height="3.9" rx="0.5"/>
<rect x="145.95" y="296.11" width="3.9" height="3.9" rx="0.5"/>
<rect x="139.91" y="297.18" width="3.9" height="3.9" rx="0.5"/>
<rect x="137.01" y="297.67" width="3.9" height="3.9" rx="0.5"/>
<rect x="145.35" y="298.98" width="3.9" height="3.9" rx="0.5"/>
<rect x="146.77" y="300.37" width="3.9" height="3.9" rx="0.5"/>
<rect x="141.45" y="301.38" width="3.9" height="3.9" rx="0.5"/>
<rect x="137.45" y="302.36" width="3.9" height="3.9" rx="0.5"/>
<rect x="138.33" y="303.5" width="3.9" height="3.9" rx="0.5"/>
<rect x="141.95" y="305.34" width="3.9" height="3.9" rx="0.5"/>
<rect x="145.95" y="306.02" width="3.9" height="3.9" rx="0.5"/>
<rect x="137.95" y="308.11" width="3.9" height="3.9" rx="0.5"/>
<rect x="141.95" y="309.84" width="3.9" height="3.9" rx="0.5"/>
<rect x="145.95" y="310.88" width="3.9" height="3.9" rx="0.5"/>
<rect x="137.95" y="313.02" width="3.9" height="3.9" rx="0.5"/>
<rect x="141.95" y="315.25" width="3.9" height="3.9" rx="0.5"/>
<rect x="145.95" y="318.44" width="3.9" height="3.9" rx="0.5"/>
<rect x="141.95" y="322.02" width="3.9" height="3.9" rx="0.5"/>
<rect x="141.95" y="340.25" width="3.9" height="3.9" rx="0.5"/>
</g>
<line x1="73.6" y1="263.4" x2="73.6" y2="347.5" stroke="#1a1a1a" stroke-width="1.15"/>
<line x1="69.6" y1="347.5" x2="155.5" y2="347.5" stroke="#1a1a1a" stroke-width="1.15"/>
<line x1="86.1" y1="347.5" x2="86.1" y2="351" stroke="#1a1a1a" stroke-width="1.15"/>
<line x1="105.3" y1="347.5" x2="105.3" y2="351" stroke="#1a1a1a" stroke-width="1.15"/>
<line x1="124.6" y1="347.5" x2="124.6" y2="351" stroke="#1a1a1a" stroke-width="1.15"/>
<line x1="143.9" y1="347.5" x2="143.9" y2="351" stroke="#1a1a1a" stroke-width="1.15"/>
<text transform="translate(90.6,360.4) rotate(-45) scale(0.92,1)" text-anchor="end" font-size="10.3" font-weight="bold">Control</text>
<text transform="translate(109.8,360.4) rotate(-45) scale(0.92,1)" text-anchor="end" font-size="10.3" font-weight="bold">Mild</text>
<text transform="translate(129.1,360.4) rotate(-45) scale(0.92,1)" text-anchor="end" font-size="10.3" font-weight="bold">Moderate</text>
<text transform="translate(148.4,360.4) rotate(-45) scale(0.92,1)" text-anchor="end" font-size="10.3" font-weight="bold">Severe</text>
<line x1="86.2" y1="204.5" x2="144.1" y2="204.5" stroke="#1e1e1e" stroke-width="1.05"/>
<use href="#st" x="104.6" y="199.1"/>
<use href="#st" x="109.25" y="199.1"/>
<use href="#st" x="113.9" y="199.1"/>
<use href="#st" x="118.55" y="199.1"/>
<line x1="105.4" y1="222.5" x2="144.1" y2="222.5" stroke="#1e1e1e" stroke-width="1.05"/>
<use href="#st" x="115.1" y="217.7"/>
<use href="#st" x="119.75" y="217.7"/>
<use href="#st" x="124.4" y="217.7"/>
<use href="#st" x="129.05" y="217.7"/>
<line x1="86.2" y1="240.5" x2="124.9" y2="240.5" stroke="#1e1e1e" stroke-width="1.05"/>
<use href="#st" x="96.2" y="235.1"/>
<use href="#st" x="100.85" y="235.1"/>
<use href="#st" x="105.5" y="235.1"/>
<use href="#st" x="110.15" y="235.1"/>
<line x1="105.4" y1="258" x2="124.9" y2="258" stroke="#1e1e1e" stroke-width="1.05"/>
<use href="#st" x="111.9" y="253.5"/>
<use href="#st" x="116.55" y="253.5"/>
<use href="#st" x="121.2" y="253.5"/>
<text x="170" y="212.2" font-size="14" font-weight="bold">d</text>
<text transform="translate(179.6,305.7) rotate(-90) scale(0.924,1)" text-anchor="middle" font-size="10.6"><tspan font-weight="bold">#GARP</tspan> (Among CD4+</text>
<text transform="translate(190.9,305.7) rotate(-90) scale(0.924,1)" text-anchor="middle" font-size="10.6">FOXP3- Cells)</text>
<line x1="245.5" y1="347.5" x2="249.5" y2="347.5" stroke="#1a1a1a" stroke-width="1.15"/>
<text transform="translate(240.9,350.7) scale(0.918,1)" text-anchor="end" font-size="10.4" font-weight="bold">10</text>
<line x1="245.5" y1="330.8" x2="249.5" y2="330.8" stroke="#1a1a1a" stroke-width="1.15"/>
<text transform="translate(240.9,334) scale(0.918,1)" text-anchor="end" font-size="10.4" font-weight="bold">100</text>
<line x1="245.5" y1="314.1" x2="249.5" y2="314.1" stroke="#1a1a1a" stroke-width="1.15"/>
<text transform="translate(240.9,317.3) scale(0.918,1)" text-anchor="end" font-size="10.4" font-weight="bold">1000</text>
<line x1="245.5" y1="297.4" x2="249.5" y2="297.4" stroke="#1a1a1a" stroke-width="1.15"/>
<text transform="translate(240.9,300.6) scale(0.918,1)" text-anchor="end" font-size="10.4" font-weight="bold">10,000</text>
<line x1="245.5" y1="280.7" x2="249.5" y2="280.7" stroke="#1a1a1a" stroke-width="1.15"/>
<text transform="translate(240.9,283.9) scale(0.918,1)" text-anchor="end" font-size="10.4" font-weight="bold">100,000</text>
<line x1="245.5" y1="264" x2="249.5" y2="264" stroke="#1a1a1a" stroke-width="1.15"/>
<text transform="translate(240.9,267.2) scale(0.918,1)" text-anchor="end" font-size="10.4" font-weight="bold">1,000,000</text>
<path d="M256.9,347.5V295.7H268.3V347.5" fill="none" stroke="#2356fa" stroke-width="1.5"/>
<path d="M276,347.5V298.8H287.4V347.5" fill="none" stroke="#ff5a14" stroke-width="1.5"/>
<path d="M295.5,347.5V305H306.9V347.5" fill="none" stroke="#217f86" stroke-width="1.5"/>
<path d="M314.7,347.5V318.4H326.1V347.5" fill="none" stroke="#3d1a6c" stroke-width="1.5"/>
<g fill="#22c0ff" stroke="#1e52f5" stroke-width="1.1">
<rect x="260.65" y="283.88" width="3.9" height="3.9" rx="0.5"/>
<rect x="264.65" y="285.35" width="3.9" height="3.9" rx="0.5"/>
<rect x="256.65" y="286.06" width="3.9" height="3.9" rx="0.5"/>
<rect x="261.67" y="286.45" width="3.9" height="3.9" rx="0.5"/>
<rect x="255.98" y="287.21" width="3.9" height="3.9" rx="0.5"/>
<rect x="255.23" y="287.63" width="3.9" height="3.9" rx="0.5"/>
<rect x="256.52" y="287.92" width="3.9" height="3.9" rx="0.5"/>
<rect x="263.06" y="288.56" width="3.9" height="3.9" rx="0.5"/>
<rect x="264.98" y="288.78" width="3.9" height="3.9" rx="0.5"/>
<rect x="256.21" y="289.16" width="3.9" height="3.9" rx="0.5"/>
<rect x="261.01" y="289.54" width="3.9" height="3.9" rx="0.5"/>
<rect x="255.17" y="289.9" width="3.9" height="3.9" rx="0.5"/>
<rect x="255.46" y="290.13" width="3.9" height="3.9" rx="0.5"/>
<rect x="260.75" y="290.56" width="3.9" height="3.9" rx="0.5"/>
<rect x="264.9" y="290.93" width="3.9" height="3.9" rx="0.5"/>
<rect x="260.89" y="291.21" width="3.9" height="3.9" rx="0.5"/>
<rect x="260.1" y="291.62" width="3.9" height="3.9" rx="0.5"/>
<rect x="261.17" y="291.95" width="3.9" height="3.9" rx="0.5"/>
<rect x="258.13" y="292.37" width="3.9" height="3.9" rx="0.5"/>
<rect x="256.42" y="292.6" width="3.9" height="3.9" rx="0.5"/>
<rect x="264.76" y="293.04" width="3.9" height="3.9" rx="0.5"/>
<rect x="259.49" y="293.48" width="3.9" height="3.9" rx="0.5"/>
<rect x="263.84" y="293.82" width="3.9" height="3.9" rx="0.5"/>
<rect x="263.49" y="294.5" width="3.9" height="3.9" rx="0.5"/>
<rect x="255.48" y="294.88" width="3.9" height="3.9" rx="0.5"/>
<rect x="261.82" y="295.22" width="3.9" height="3.9" rx="0.5"/>
<rect x="264.25" y="295.9" width="3.9" height="3.9" rx="0.5"/>
<rect x="256.35" y="296.41" width="3.9" height="3.9" rx="0.5"/>
<rect x="255.16" y="296.93" width="3.9" height="3.9" rx="0.5"/>
<rect x="256.45" y="297.57" width="3.9" height="3.9" rx="0.5"/>
<rect x="261.46" y="298.44" width="3.9" height="3.9" rx="0.5"/>
<rect x="262.68" y="299.09" width="3.9" height="3.9" rx="0.5"/>
<rect x="264.41" y="300.44" width="3.9" height="3.9" rx="0.5"/>
<rect x="257.65" y="301.96" width="3.9" height="3.9" rx="0.5"/>
<rect x="260.65" y="312.25" width="3.9" height="3.9" rx="0.5"/>
</g>
<g fill="#ffab8c" stroke="#ff5200" stroke-width="1.1">
<rect x="279.75" y="277.35" width="3.9" height="3.9" rx="0.5"/>
<rect x="278.68" y="280.55" width="3.9" height="3.9" rx="0.5"/>
<rect x="279.94" y="283.55" width="3.9" height="3.9" rx="0.5"/>
<rect x="279.75" y="287.88" width="3.9" height="3.9" rx="0.5"/>
<rect x="283.75" y="288.66" width="3.9" height="3.9" rx="0.5"/>
<rect x="275.75" y="289.51" width="3.9" height="3.9" rx="0.5"/>
<rect x="278.06" y="290.34" width="3.9" height="3.9" rx="0.5"/>
<rect x="283.82" y="290.72" width="3.9" height="3.9" rx="0.5"/>
<rect x="281.75" y="291.46" width="3.9" height="3.9" rx="0.5"/>
<rect x="283.5" y="291.91" width="3.9" height="3.9" rx="0.5"/>
<rect x="275.51" y="292.15" width="3.9" height="3.9" rx="0.5"/>
<rect x="284.66" y="292.71" width="3.9" height="3.9" rx="0.5"/>
<rect x="274.85" y="293.05" width="3.9" height="3.9" rx="0.5"/>
<rect x="280.67" y="293.44" width="3.9" height="3.9" rx="0.5"/>
<rect x="281.51" y="293.85" width="3.9" height="3.9" rx="0.5"/>
<rect x="276.38" y="294.2" width="3.9" height="3.9" rx="0.5"/>
<rect x="277.36" y="294.44" width="3.9" height="3.9" rx="0.5"/>
<rect x="277.05" y="294.91" width="3.9" height="3.9" rx="0.5"/>
<rect x="284.39" y="295.28" width="3.9" height="3.9" rx="0.5"/>
<rect x="278.25" y="295.73" width="3.9" height="3.9" rx="0.5"/>
<rect x="275.38" y="295.92" width="3.9" height="3.9" rx="0.5"/>
<rect x="282.55" y="296.6" width="3.9" height="3.9" rx="0.5"/>
<rect x="284.26" y="296.86" width="3.9" height="3.9" rx="0.5"/>
<rect x="279.95" y="297.32" width="3.9" height="3.9" rx="0.5"/>
<rect x="279.32" y="297.99" width="3.9" height="3.9" rx="0.5"/>
<rect x="284.56" y="298.65" width="3.9" height="3.9" rx="0.5"/>
<rect x="282.84" y="299.33" width="3.9" height="3.9" rx="0.5"/>
<rect x="275.25" y="299.79" width="3.9" height="3.9" rx="0.5"/>
<rect x="283.72" y="300.83" width="3.9" height="3.9" rx="0.5"/>
<rect x="280.55" y="301.34" width="3.9" height="3.9" rx="0.5"/>
<rect x="276.75" y="303.75" width="3.9" height="3.9" rx="0.5"/>
<rect x="279.75" y="310.05" width="3.9" height="3.9" rx="0.5"/>
<rect x="279.75" y="314.05" width="3.9" height="3.9" rx="0.5"/>
<rect x="279.75" y="318.05" width="3.9" height="3.9" rx="0.5"/>
<rect x="279.75" y="327.75" width="3.9" height="3.9" rx="0.5"/>
</g>
<g fill="#78cdd3" stroke="#288b94" stroke-width="1.1">
<rect x="299.25" y="287.55" width="3.9" height="3.9" rx="0.5"/>
<rect x="298.44" y="290.55" width="3.9" height="3.9" rx="0.5"/>
<rect x="299.03" y="293.55" width="3.9" height="3.9" rx="0.5"/>
<rect x="302.75" y="296.68" width="3.9" height="3.9" rx="0.5"/>
<rect x="298.75" y="297.75" width="3.9" height="3.9" rx="0.5"/>
<rect x="294.75" y="298.58" width="3.9" height="3.9" rx="0.5"/>
<rect x="297.12" y="298.91" width="3.9" height="3.9" rx="0.5"/>
<rect x="300.84" y="299.42" width="3.9" height="3.9" rx="0.5"/>
<rect x="303.79" y="300.11" width="3.9" height="3.9" rx="0.5"/>
<rect x="298.24" y="300.42" width="3.9" height="3.9" rx="0.5"/>
<rect x="303.22" y="300.83" width="3.9" height="3.9" rx="0.5"/>
<rect x="300.46" y="301.31" width="3.9" height="3.9" rx="0.5"/>
<rect x="294.27" y="301.56" width="3.9" height="3.9" rx="0.5"/>
<rect x="298.56" y="302.15" width="3.9" height="3.9" rx="0.5"/>
<rect x="294.82" y="302.47" width="3.9" height="3.9" rx="0.5"/>
<rect x="295.84" y="302.81" width="3.9" height="3.9" rx="0.5"/>
<rect x="301.75" y="303.56" width="3.9" height="3.9" rx="0.5"/>
<rect x="299.72" y="303.98" width="3.9" height="3.9" rx="0.5"/>
<rect x="299.39" y="304.39" width="3.9" height="3.9" rx="0.5"/>
<rect x="300.5" y="305.33" width="3.9" height="3.9" rx="0.5"/>
<rect x="298.62" y="306.08" width="3.9" height="3.9" rx="0.5"/>
<rect x="294.75" y="307.02" width="3.9" height="3.9" rx="0.5"/>
<rect x="304.25" y="308.4" width="3.9" height="3.9" rx="0.5"/>
<rect x="299.25" y="312.3" width="3.9" height="3.9" rx="0.5"/>
<rect x="298.08" y="313.78" width="3.9" height="3.9" rx="0.5"/>
<rect x="300.14" y="314.93" width="3.9" height="3.9" rx="0.5"/>
<rect x="301.19" y="315.38" width="3.9" height="3.9" rx="0.5"/>
<rect x="298.53" y="316.08" width="3.9" height="3.9" rx="0.5"/>
<rect x="296.49" y="317.16" width="3.9" height="3.9" rx="0.5"/>
<rect x="301.26" y="317.72" width="3.9" height="3.9" rx="0.5"/>
<rect x="302.2" y="318.58" width="3.9" height="3.9" rx="0.5"/>
<rect x="299.12" y="319.74" width="3.9" height="3.9" rx="0.5"/>
<rect x="301.64" y="320.36" width="3.9" height="3.9" rx="0.5"/>
<rect x="296.92" y="321.98" width="3.9" height="3.9" rx="0.5"/>
<rect x="299.54" y="322.97" width="3.9" height="3.9" rx="0.5"/>
<rect x="296.56" y="324.12" width="3.9" height="3.9" rx="0.5"/>
<rect x="299.25" y="327.82" width="3.9" height="3.9" rx="0.5"/>
<rect x="299.25" y="342.55" width="3.9" height="3.9" rx="0.5"/>
</g>
<g fill="#a48ae0" stroke="#3c1872" stroke-width="1.1">
<rect x="318.45" y="288.65" width="3.9" height="3.9" rx="0.5"/>
<rect x="319.43" y="291.65" width="3.9" height="3.9" rx="0.5"/>
<rect x="318.45" y="295.71" width="3.9" height="3.9" rx="0.5"/>
<rect x="322.45" y="297.68" width="3.9" height="3.9" rx="0.5"/>
<rect x="314.45" y="299.18" width="3.9" height="3.9" rx="0.5"/>
<rect x="318.45" y="299.88" width="3.9" height="3.9" rx="0.5"/>
<rect x="316.33" y="300.68" width="3.9" height="3.9" rx="0.5"/>
<rect x="322.45" y="301.56" width="3.9" height="3.9" rx="0.5"/>
<rect x="319.87" y="302.2" width="3.9" height="3.9" rx="0.5"/>
<rect x="319.15" y="302.73" width="3.9" height="3.9" rx="0.5"/>
<rect x="315.02" y="303.36" width="3.9" height="3.9" rx="0.5"/>
<rect x="322.44" y="304.04" width="3.9" height="3.9" rx="0.5"/>
<rect x="322.28" y="304.33" width="3.9" height="3.9" rx="0.5"/>
<rect x="320.76" y="304.84" width="3.9" height="3.9" rx="0.5"/>
<rect x="314.48" y="305.26" width="3.9" height="3.9" rx="0.5"/>
<rect x="314.29" y="305.77" width="3.9" height="3.9" rx="0.5"/>
<rect x="319.98" y="306.16" width="3.9" height="3.9" rx="0.5"/>
<rect x="321.08" y="306.84" width="3.9" height="3.9" rx="0.5"/>
<rect x="313.28" y="307.12" width="3.9" height="3.9" rx="0.5"/>
<rect x="321.06" y="307.8" width="3.9" height="3.9" rx="0.5"/>
<rect x="314.28" y="308.05" width="3.9" height="3.9" rx="0.5"/>
<rect x="317.69" y="308.83" width="3.9" height="3.9" rx="0.5"/>
<rect x="323.38" y="309.27" width="3.9" height="3.9" rx="0.5"/>
<rect x="316.61" y="309.95" width="3.9" height="3.9" rx="0.5"/>
<rect x="315.19" y="310.6" width="3.9" height="3.9" rx="0.5"/>
<rect x="319" y="311.14" width="3.9" height="3.9" rx="0.5"/>
<rect x="316.74" y="311.91" width="3.9" height="3.9" rx="0.5"/>
<rect x="322.95" y="313.09" width="3.9" height="3.9" rx="0.5"/>
<rect x="317.77" y="313.84" width="3.9" height="3.9" rx="0.5"/>
<rect x="312.95" y="315.2" width="3.9" height="3.9" rx="0.5"/>
<rect x="318.45" y="322.05" width="3.9" height="3.9" rx="0.5"/>
<rect x="318.45" y="326.05" width="3.9" height="3.9" rx="0.5"/>
<rect x="318.45" y="330.55" width="3.9" height="3.9" rx="0.5"/>
<rect x="318.45" y="341.75" width="3.9" height="3.9" rx="0.5"/>
</g>
<line x1="249.5" y1="263.5" x2="249.5" y2="347.5" stroke="#1a1a1a" stroke-width="1.15"/>
<line x1="245.5" y1="347.5" x2="334.1" y2="347.5" stroke="#1a1a1a" stroke-width="1.15"/>
<line x1="262.6" y1="347.5" x2="262.6" y2="351" stroke="#1a1a1a" stroke-width="1.15"/>
<line x1="281.7" y1="347.5" x2="281.7" y2="351" stroke="#1a1a1a" stroke-width="1.15"/>
<line x1="301.2" y1="347.5" x2="301.2" y2="351" stroke="#1a1a1a" stroke-width="1.15"/>
<line x1="320.4" y1="347.5" x2="320.4" y2="351" stroke="#1a1a1a" stroke-width="1.15"/>
<text transform="translate(267.1,360.4) rotate(-45) scale(0.92,1)" text-anchor="end" font-size="10.3" font-weight="bold">Control</text>
<text transform="translate(286.2,360.4) rotate(-45) scale(0.92,1)" text-anchor="end" font-size="10.3" font-weight="bold">Mild</text>
<text transform="translate(305.7,360.4) rotate(-45) scale(0.92,1)" text-anchor="end" font-size="10.3" font-weight="bold">Moderate</text>
<text transform="translate(324.9,360.4) rotate(-45) scale(0.92,1)" text-anchor="end" font-size="10.3" font-weight="bold">Severe</text>
<line x1="262.2" y1="217.5" x2="320.5" y2="217.5" stroke="#1e1e1e" stroke-width="1.05"/>
<use href="#st" x="285.2" y="212.2"/>
<use href="#st" x="289.85" y="212.2"/>
<use href="#st" x="294.5" y="212.2"/>
<use href="#st" x="299.15" y="212.2"/>
<line x1="282" y1="235.5" x2="320.5" y2="235.5" stroke="#1e1e1e" stroke-width="1.05"/>
<use href="#st" x="295.1" y="229.9"/>
<use href="#st" x="299.75" y="229.9"/>
<use href="#st" x="304.4" y="229.9"/>
<use href="#st" x="309.05" y="229.9"/>
<line x1="262.2" y1="253" x2="301.3" y2="253" stroke="#1e1e1e" stroke-width="1.05"/>
<use href="#st" x="276.2" y="248"/>
<use href="#st" x="280.85" y="248"/>
<use href="#st" x="285.5" y="248"/>
<use href="#st" x="290.15" y="248"/>
<line x1="281.8" y1="270.5" x2="301" y2="270.5" stroke="#1e1e1e" stroke-width="1.05"/>
<use href="#st" x="283.8" y="266.4"/>
<use href="#st" x="288.45" y="266.4"/>
<use href="#st" x="293.1" y="266.4"/>
<use href="#st" x="297.75" y="266.4"/>
<text x="346" y="212.2" font-size="14" font-weight="bold">f</text>
<text transform="translate(353.9,305.2) rotate(-90) scale(0.924,1)" text-anchor="middle" font-size="10.6"><tspan font-weight="bold">#TIGIT</tspan> (Among CD4+</text>
<text transform="translate(365.4,305.2) rotate(-90) scale(0.924,1)" text-anchor="middle" font-size="10.6">FOXP3- Cells)</text>
<line x1="422.5" y1="347.5" x2="426.5" y2="347.5" stroke="#1a1a1a" stroke-width="1.15"/>
<text transform="translate(417.9,350.7) scale(0.918,1)" text-anchor="end" font-size="10.4" font-weight="bold">10</text>
<line x1="422.5" y1="330.9" x2="426.5" y2="330.9" stroke="#1a1a1a" stroke-width="1.15"/>
<text transform="translate(417.9,334.1) scale(0.918,1)" text-anchor="end" font-size="10.4" font-weight="bold">100</text>
<line x1="422.5" y1="314.3" x2="426.5" y2="314.3" stroke="#1a1a1a" stroke-width="1.15"/>
<text transform="translate(417.9,317.5) scale(0.918,1)" text-anchor="end" font-size="10.4" font-weight="bold">1000</text>
<line x1="422.5" y1="297.7" x2="426.5" y2="297.7" stroke="#1a1a1a" stroke-width="1.15"/>
<text transform="translate(417.9,300.9) scale(0.918,1)" text-anchor="end" font-size="10.4" font-weight="bold">10,000</text>
<line x1="422.5" y1="281.1" x2="426.5" y2="281.1" stroke="#1a1a1a" stroke-width="1.15"/>
<text transform="translate(417.9,284.3) scale(0.918,1)" text-anchor="end" font-size="10.4" font-weight="bold">100,000</text>
<line x1="422.5" y1="264.5" x2="426.5" y2="264.5" stroke="#1a1a1a" stroke-width="1.15"/>
<text transform="translate(417.9,267.7) scale(0.918,1)" text-anchor="end" font-size="10.4" font-weight="bold">1,000,000</text>
<path d="M433.05,347.5V280.4H444.75V347.5" fill="none" stroke="#3d1a6c" stroke-width="1.5"/>
<path d="M452.45,347.5V284H464.15V347.5" fill="none" stroke="#ff5a14" stroke-width="1.5"/>
<path d="M471.75,347.5V291H483.45V347.5" fill="none" stroke="#217f86" stroke-width="1.5"/>
<path d="M491.05,347.5V308H502.75V347.5" fill="none" stroke="#2356fa" stroke-width="1.5"/>
<g fill="#a48ae0" stroke="#3c1872" stroke-width="1.1">
<rect x="436.95" y="273.88" width="3.9" height="3.9" rx="0.5"/>
<rect x="440.95" y="274.85" width="3.9" height="3.9" rx="0.5"/>
<rect x="432.95" y="275.82" width="3.9" height="3.9" rx="0.5"/>
<rect x="441.71" y="276.22" width="3.9" height="3.9" rx="0.5"/>
<rect x="432.14" y="276.82" width="3.9" height="3.9" rx="0.5"/>
<rect x="437.9" y="277.25" width="3.9" height="3.9" rx="0.5"/>
<rect x="438.78" y="277.7" width="3.9" height="3.9" rx="0.5"/>
<rect x="441.14" y="278.23" width="3.9" height="3.9" rx="0.5"/>
<rect x="439.78" y="278.41" width="3.9" height="3.9" rx="0.5"/>
<rect x="442.28" y="278.89" width="3.9" height="3.9" rx="0.5"/>
<rect x="434.3" y="279.25" width="3.9" height="3.9" rx="0.5"/>
<rect x="436.84" y="279.71" width="3.9" height="3.9" rx="0.5"/>
<rect x="435.81" y="280.34" width="3.9" height="3.9" rx="0.5"/>
<rect x="435.92" y="280.63" width="3.9" height="3.9" rx="0.5"/>
<rect x="437.49" y="281.22" width="3.9" height="3.9" rx="0.5"/>
<rect x="436.21" y="281.7" width="3.9" height="3.9" rx="0.5"/>
<rect x="438.24" y="282.4" width="3.9" height="3.9" rx="0.5"/>
<rect x="441.95" y="282.94" width="3.9" height="3.9" rx="0.5"/>
<rect x="431.95" y="283.53" width="3.9" height="3.9" rx="0.5"/>
<rect x="438.81" y="284.48" width="3.9" height="3.9" rx="0.5"/>
<rect x="439.9" y="285.47" width="3.9" height="3.9" rx="0.5"/>
<rect x="434.95" y="287.42" width="3.9" height="3.9" rx="0.5"/>
<rect x="438.95" y="290.77" width="3.9" height="3.9" rx="0.5"/>
<rect x="434.95" y="291.86" width="3.9" height="3.9" rx="0.5"/>
<rect x="433.98" y="292.96" width="3.9" height="3.9" rx="0.5"/>
<rect x="439.65" y="293.52" width="3.9" height="3.9" rx="0.5"/>
<rect x="434.13" y="294.88" width="3.9" height="3.9" rx="0.5"/>
<rect x="436.95" y="304.05" width="3.9" height="3.9" rx="0.5"/>
</g>
<g fill="#ffab8c" stroke="#ff5200" stroke-width="1.1">
<rect x="456.35" y="270.87" width="3.9" height="3.9" rx="0.5"/>
<rect x="460.35" y="271.99" width="3.9" height="3.9" rx="0.5"/>
<rect x="452.35" y="272.79" width="3.9" height="3.9" rx="0.5"/>
<rect x="459.89" y="273.81" width="3.9" height="3.9" rx="0.5"/>
<rect x="456.66" y="274.27" width="3.9" height="3.9" rx="0.5"/>
<rect x="457.76" y="274.86" width="3.9" height="3.9" rx="0.5"/>
<rect x="461.67" y="275.42" width="3.9" height="3.9" rx="0.5"/>
<rect x="455.43" y="275.96" width="3.9" height="3.9" rx="0.5"/>
<rect x="451.35" y="276.49" width="3.9" height="3.9" rx="0.5"/>
<rect x="456.16" y="276.78" width="3.9" height="3.9" rx="0.5"/>
<rect x="455.71" y="277.3" width="3.9" height="3.9" rx="0.5"/>
<rect x="456.32" y="277.68" width="3.9" height="3.9" rx="0.5"/>
<rect x="459.41" y="277.89" width="3.9" height="3.9" rx="0.5"/>
<rect x="456.28" y="278.24" width="3.9" height="3.9" rx="0.5"/>
<rect x="452.2" y="278.67" width="3.9" height="3.9" rx="0.5"/>
<rect x="452.61" y="279.27" width="3.9" height="3.9" rx="0.5"/>
<rect x="460.11" y="279.65" width="3.9" height="3.9" rx="0.5"/>
<rect x="452.45" y="280.21" width="3.9" height="3.9" rx="0.5"/>
<rect x="458.69" y="280.72" width="3.9" height="3.9" rx="0.5"/>
<rect x="454.52" y="281.14" width="3.9" height="3.9" rx="0.5"/>
<rect x="455.81" y="281.64" width="3.9" height="3.9" rx="0.5"/>
<rect x="461.71" y="282.06" width="3.9" height="3.9" rx="0.5"/>
<rect x="461.17" y="282.66" width="3.9" height="3.9" rx="0.5"/>
<rect x="454.96" y="283.66" width="3.9" height="3.9" rx="0.5"/>
<rect x="450.85" y="284.38" width="3.9" height="3.9" rx="0.5"/>
<rect x="451.11" y="285.35" width="3.9" height="3.9" rx="0.5"/>
<rect x="458.85" y="286.33" width="3.9" height="3.9" rx="0.5"/>
<rect x="454.85" y="288.12" width="3.9" height="3.9" rx="0.5"/>
<rect x="458.85" y="291.58" width="3.9" height="3.9" rx="0.5"/>
<rect x="454.85" y="292.54" width="3.9" height="3.9" rx="0.5"/>
<rect x="453.79" y="293.22" width="3.9" height="3.9" rx="0.5"/>
<rect x="455.8" y="294.7" width="3.9" height="3.9" rx="0.5"/>
<rect x="456.35" y="300.55" width="3.9" height="3.9" rx="0.5"/>
<rect x="456.89" y="303.55" width="3.9" height="3.9" rx="0.5"/>
<rect x="455.79" y="306.55" width="3.9" height="3.9" rx="0.5"/>
<rect x="455.55" y="309.55" width="3.9" height="3.9" rx="0.5"/>
<rect x="456.35" y="315.45" width="3.9" height="3.9" rx="0.5"/>
</g>
<g fill="#78cdd3" stroke="#288b94" stroke-width="1.1">
<rect x="475.65" y="276.45" width="3.9" height="3.9" rx="0.5"/>
<rect x="475.23" y="279.55" width="3.9" height="3.9" rx="0.5"/>
<rect x="474.76" y="282.55" width="3.9" height="3.9" rx="0.5"/>
<rect x="478.65" y="285.44" width="3.9" height="3.9" rx="0.5"/>
<rect x="474.65" y="287.48" width="3.9" height="3.9" rx="0.5"/>
<rect x="470.65" y="288.81" width="3.9" height="3.9" rx="0.5"/>
<rect x="478.65" y="289.85" width="3.9" height="3.9" rx="0.5"/>
<rect x="473.06" y="290.36" width="3.9" height="3.9" rx="0.5"/>
<rect x="480.64" y="291.05" width="3.9" height="3.9" rx="0.5"/>
<rect x="472.57" y="291.73" width="3.9" height="3.9" rx="0.5"/>
<rect x="480.35" y="292.49" width="3.9" height="3.9" rx="0.5"/>
<rect x="476.78" y="292.83" width="3.9" height="3.9" rx="0.5"/>
<rect x="480.6" y="293.52" width="3.9" height="3.9" rx="0.5"/>
<rect x="480.2" y="293.98" width="3.9" height="3.9" rx="0.5"/>
<rect x="475.75" y="294.3" width="3.9" height="3.9" rx="0.5"/>
<rect x="477.51" y="294.85" width="3.9" height="3.9" rx="0.5"/>
<rect x="475.19" y="295.25" width="3.9" height="3.9" rx="0.5"/>
<rect x="471.15" y="295.68" width="3.9" height="3.9" rx="0.5"/>
<rect x="480.94" y="296.31" width="3.9" height="3.9" rx="0.5"/>
<rect x="474.72" y="296.53" width="3.9" height="3.9" rx="0.5"/>
<rect x="478.94" y="297.01" width="3.9" height="3.9" rx="0.5"/>
<rect x="473.29" y="297.84" width="3.9" height="3.9" rx="0.5"/>
<rect x="479.38" y="298.24" width="3.9" height="3.9" rx="0.5"/>
<rect x="477.64" y="298.78" width="3.9" height="3.9" rx="0.5"/>
<rect x="472.03" y="299.51" width="3.9" height="3.9" rx="0.5"/>
<rect x="473.46" y="300.28" width="3.9" height="3.9" rx="0.5"/>
<rect x="473.12" y="301.5" width="3.9" height="3.9" rx="0.5"/>
<rect x="473.43" y="302.1" width="3.9" height="3.9" rx="0.5"/>
<rect x="477.15" y="303.55" width="3.9" height="3.9" rx="0.5"/>
<rect x="475.65" y="309.55" width="3.9" height="3.9" rx="0.5"/>
<rect x="475.66" y="312.55" width="3.9" height="3.9" rx="0.5"/>
<rect x="476.47" y="315.55" width="3.9" height="3.9" rx="0.5"/>
<rect x="476.16" y="318.55" width="3.9" height="3.9" rx="0.5"/>
<rect x="474.6" y="321.05" width="3.9" height="3.9" rx="0.5"/>
<rect x="475.65" y="333.05" width="3.9" height="3.9" rx="0.5"/>
</g>
<g fill="#22c0ff" stroke="#1e52f5" stroke-width="1.1">
<rect x="494.95" y="285.58" width="3.9" height="3.9" rx="0.5"/>
<rect x="498.95" y="286.81" width="3.9" height="3.9" rx="0.5"/>
<rect x="490.95" y="287.71" width="3.9" height="3.9" rx="0.5"/>
<rect x="495.68" y="288.17" width="3.9" height="3.9" rx="0.5"/>
<rect x="491.6" y="288.89" width="3.9" height="3.9" rx="0.5"/>
<rect x="491.72" y="289.49" width="3.9" height="3.9" rx="0.5"/>
<rect x="500.39" y="289.96" width="3.9" height="3.9" rx="0.5"/>
<rect x="491.49" y="290.21" width="3.9" height="3.9" rx="0.5"/>
<rect x="500.32" y="290.75" width="3.9" height="3.9" rx="0.5"/>
<rect x="499.79" y="291.13" width="3.9" height="3.9" rx="0.5"/>
<rect x="499.23" y="291.48" width="3.9" height="3.9" rx="0.5"/>
<rect x="495.45" y="291.93" width="3.9" height="3.9" rx="0.5"/>
<rect x="497.36" y="292.18" width="3.9" height="3.9" rx="0.5"/>
<rect x="494.86" y="292.49" width="3.9" height="3.9" rx="0.5"/>
<rect x="493.76" y="292.91" width="3.9" height="3.9" rx="0.5"/>
<rect x="492.82" y="293.18" width="3.9" height="3.9" rx="0.5"/>
<rect x="489.91" y="293.45" width="3.9" height="3.9" rx="0.5"/>
<rect x="493.02" y="293.8" width="3.9" height="3.9" rx="0.5"/>
<rect x="491.58" y="294.2" width="3.9" height="3.9" rx="0.5"/>
<rect x="496.75" y="294.47" width="3.9" height="3.9" rx="0.5"/>
<rect x="496.87" y="294.98" width="3.9" height="3.9" rx="0.5"/>
<rect x="499.38" y="295.42" width="3.9" height="3.9" rx="0.5"/>
<rect x="493.89" y="295.76" width="3.9" height="3.9" rx="0.5"/>
<rect x="500.24" y="296.3" width="3.9" height="3.9" rx="0.5"/>
<rect x="492.4" y="296.79" width="3.9" height="3.9" rx="0.5"/>
<rect x="498.35" y="297.16" width="3.9" height="3.9" rx="0.5"/>
<rect x="493.27" y="297.71" width="3.9" height="3.9" rx="0.5"/>
<rect x="489.74" y="298.07" width="3.9" height="3.9" rx="0.5"/>
<rect x="491.44" y="298.63" width="3.9" height="3.9" rx="0.5"/>
<rect x="491.74" y="299.63" width="3.9" height="3.9" rx="0.5"/>
<rect x="493.71" y="300.06" width="3.9" height="3.9" rx="0.5"/>
<rect x="497.45" y="300.84" width="3.9" height="3.9" rx="0.5"/>
<rect x="497.93" y="302.31" width="3.9" height="3.9" rx="0.5"/>
<rect x="493.45" y="303.84" width="3.9" height="3.9" rx="0.5"/>
<rect x="494.95" y="312.25" width="3.9" height="3.9" rx="0.5"/>
<rect x="494.44" y="312.35" width="3.9" height="3.9" rx="0.5"/>
<rect x="494.95" y="318.55" width="3.9" height="3.9" rx="0.5"/>
<rect x="494.95" y="331.05" width="3.9" height="3.9" rx="0.5"/>
</g>
<line x1="426.5" y1="264" x2="426.5" y2="347.5" stroke="#1a1a1a" stroke-width="1.15"/>
<line x1="422.3" y1="347.5" x2="510.2" y2="347.5" stroke="#1a1a1a" stroke-width="1.15"/>
<line x1="438.9" y1="347.5" x2="438.9" y2="351" stroke="#1a1a1a" stroke-width="1.15"/>
<line x1="458.3" y1="347.5" x2="458.3" y2="351" stroke="#1a1a1a" stroke-width="1.15"/>
<line x1="477.6" y1="347.5" x2="477.6" y2="351" stroke="#1a1a1a" stroke-width="1.15"/>
<line x1="496.9" y1="347.5" x2="496.9" y2="351" stroke="#1a1a1a" stroke-width="1.15"/>
<text transform="translate(443.4,360.4) rotate(-45) scale(0.92,1)" text-anchor="end" font-size="10.3" font-weight="bold">Control</text>
<text transform="translate(462.8,360.4) rotate(-45) scale(0.92,1)" text-anchor="end" font-size="10.3" font-weight="bold">Mild</text>
<text transform="translate(482.1,360.4) rotate(-45) scale(0.92,1)" text-anchor="end" font-size="10.3" font-weight="bold">Moderate</text>
<text transform="translate(501.4,360.4) rotate(-45) scale(0.92,1)" text-anchor="end" font-size="10.3" font-weight="bold">Severe</text>
<line x1="439" y1="210" x2="496.9" y2="210" stroke="#1e1e1e" stroke-width="1.05"/>
<use href="#st" x="458.4" y="205"/>
<use href="#st" x="463.05" y="205"/>
<use href="#st" x="467.7" y="205"/>
<use href="#st" x="472.35" y="205"/>
<line x1="458.3" y1="227.5" x2="496.9" y2="227.5" stroke="#1e1e1e" stroke-width="1.05"/>
<use href="#st" x="468.3" y="223"/>
<use href="#st" x="472.95" y="223"/>
<use href="#st" x="477.6" y="223"/>
<use href="#st" x="482.25" y="223"/>
<line x1="439" y1="245.5" x2="477.5" y2="245.5" stroke="#1e1e1e" stroke-width="1.05"/>
<use href="#st" x="448.8" y="241"/>
<use href="#st" x="453.45" y="241"/>
<use href="#st" x="458.1" y="241"/>
<use href="#st" x="462.75" y="241"/>
<line x1="458.3" y1="263.1" x2="477.5" y2="263.1" stroke="#1e1e1e" stroke-width="1.05"/>
<use href="#st" x="460.7" y="258.6"/>
<use href="#st" x="465.35" y="258.6"/>
<use href="#st" x="470" y="258.6"/>
<use href="#st" x="474.65" y="258.6"/>
<text x="530.1" y="212.2" font-size="14" font-weight="bold">h</text>
<text transform="translate(531.3,284.7) rotate(-90) scale(0.924,1)" text-anchor="middle" font-size="10.6"><tspan font-weight="bold">#CTLA4</tspan> (Among CD4+</text>
<text transform="translate(543.4,284.7) rotate(-90) scale(0.924,1)" text-anchor="middle" font-size="10.6">FOXP3- Cells)</text>
<line x1="591" y1="347.5" x2="595" y2="347.5" stroke="#1a1a1a" stroke-width="1.15"/>
<text transform="translate(586.4,350.7) scale(0.918,1)" text-anchor="end" font-size="10.4" font-weight="bold">1</text>
<line x1="591" y1="329.72" x2="595" y2="329.72" stroke="#1a1a1a" stroke-width="1.15"/>
<text transform="translate(586.4,332.92) scale(0.918,1)" text-anchor="end" font-size="10.4" font-weight="bold">10</text>
<line x1="591" y1="311.94" x2="595" y2="311.94" stroke="#1a1a1a" stroke-width="1.15"/>
<text transform="translate(586.4,315.14) scale(0.918,1)" text-anchor="end" font-size="10.4" font-weight="bold">100</text>
<line x1="591" y1="294.16" x2="595" y2="294.16" stroke="#1a1a1a" stroke-width="1.15"/>
<text transform="translate(586.4,297.36) scale(0.918,1)" text-anchor="end" font-size="10.4" font-weight="bold">1000</text>
<line x1="591" y1="276.38" x2="595" y2="276.38" stroke="#1a1a1a" stroke-width="1.15"/>
<text transform="translate(586.4,279.58) scale(0.918,1)" text-anchor="end" font-size="10.4" font-weight="bold">10,000</text>
<line x1="591" y1="258.6" x2="595" y2="258.6" stroke="#1a1a1a" stroke-width="1.15"/>
<text transform="translate(586.4,261.8) scale(0.918,1)" text-anchor="end" font-size="10.4" font-weight="bold">100,000</text>
<path d="M603,347.5V302H615V347.5" fill="none" stroke="#3d1a6c" stroke-width="1.5"/>
<path d="M623.5,347.5V293.8H635.5V347.5" fill="none" stroke="#ff5a14" stroke-width="1.5"/>
<path d="M644.1,347.5V296H656.1V347.5" fill="none" stroke="#217f86" stroke-width="1.5"/>
<path d="M664.7,347.5V298H676.7V347.5" fill="none" stroke="#2356fa" stroke-width="1.5"/>
<g fill="#a48ae0" stroke="#3c1872" stroke-width="1.1">
<rect x="607.05" y="292.61" width="3.9" height="3.9" rx="0.5"/>
<rect x="611.05" y="293.89" width="3.9" height="3.9" rx="0.5"/>
<rect x="603.05" y="294.87" width="3.9" height="3.9" rx="0.5"/>
<rect x="605.15" y="295.57" width="3.9" height="3.9" rx="0.5"/>
<rect x="602.16" y="296.16" width="3.9" height="3.9" rx="0.5"/>
<rect x="605.11" y="296.53" width="3.9" height="3.9" rx="0.5"/>
<rect x="608.27" y="297.2" width="3.9" height="3.9" rx="0.5"/>
<rect x="612.05" y="297.51" width="3.9" height="3.9" rx="0.5"/>
<rect x="604.63" y="297.92" width="3.9" height="3.9" rx="0.5"/>
<rect x="609.48" y="298.28" width="3.9" height="3.9" rx="0.5"/>
<rect x="607.28" y="298.76" width="3.9" height="3.9" rx="0.5"/>
<rect x="608.66" y="299.06" width="3.9" height="3.9" rx="0.5"/>
<rect x="605.96" y="299.48" width="3.9" height="3.9" rx="0.5"/>
<rect x="604.72" y="299.96" width="3.9" height="3.9" rx="0.5"/>
<rect x="606.92" y="300.42" width="3.9" height="3.9" rx="0.5"/>
<rect x="608.13" y="300.85" width="3.9" height="3.9" rx="0.5"/>
<rect x="605.87" y="301.12" width="3.9" height="3.9" rx="0.5"/>
<rect x="604.7" y="301.57" width="3.9" height="3.9" rx="0.5"/>
<rect x="612.55" y="302.1" width="3.9" height="3.9" rx="0.5"/>
<rect x="604.09" y="302.69" width="3.9" height="3.9" rx="0.5"/>
<rect x="611.14" y="303.31" width="3.9" height="3.9" rx="0.5"/>
<rect x="609.96" y="303.85" width="3.9" height="3.9" rx="0.5"/>
<rect x="605.43" y="304.5" width="3.9" height="3.9" rx="0.5"/>
<rect x="604.25" y="305" width="3.9" height="3.9" rx="0.5"/>
<rect x="605.03" y="305.71" width="3.9" height="3.9" rx="0.5"/>
<rect x="603.76" y="306.3" width="3.9" height="3.9" rx="0.5"/>
<rect x="601.88" y="307.13" width="3.9" height="3.9" rx="0.5"/>
<rect x="609.05" y="308.01" width="3.9" height="3.9" rx="0.5"/>
<rect x="612.43" y="309.4" width="3.9" height="3.9" rx="0.5"/>
<rect x="605.05" y="311.25" width="3.9" height="3.9" rx="0.5"/>
</g>
<g fill="#ffab8c" stroke="#ff5200" stroke-width="1.1">
<rect x="627.55" y="271.65" width="3.9" height="3.9" rx="0.5"/>
<rect x="626.53" y="275.05" width="3.9" height="3.9" rx="0.5"/>
<rect x="627.08" y="278.55" width="3.9" height="3.9" rx="0.5"/>
<rect x="628.72" y="282.05" width="3.9" height="3.9" rx="0.5"/>
<rect x="625.05" y="285.5" width="3.9" height="3.9" rx="0.5"/>
<rect x="629.05" y="286.62" width="3.9" height="3.9" rx="0.5"/>
<rect x="633.05" y="287.3" width="3.9" height="3.9" rx="0.5"/>
<rect x="625.23" y="287.91" width="3.9" height="3.9" rx="0.5"/>
<rect x="628.69" y="288.23" width="3.9" height="3.9" rx="0.5"/>
<rect x="623.81" y="288.86" width="3.9" height="3.9" rx="0.5"/>
<rect x="623.11" y="289.16" width="3.9" height="3.9" rx="0.5"/>
<rect x="622.46" y="289.58" width="3.9" height="3.9" rx="0.5"/>
<rect x="622.09" y="289.93" width="3.9" height="3.9" rx="0.5"/>
<rect x="625.09" y="290.31" width="3.9" height="3.9" rx="0.5"/>
<rect x="631.22" y="290.52" width="3.9" height="3.9" rx="0.5"/>
<rect x="625.56" y="290.92" width="3.9" height="3.9" rx="0.5"/>
<rect x="625.91" y="291.42" width="3.9" height="3.9" rx="0.5"/>
<rect x="631.23" y="291.83" width="3.9" height="3.9" rx="0.5"/>
<rect x="632.9" y="292.39" width="3.9" height="3.9" rx="0.5"/>
<rect x="628.68" y="292.84" width="3.9" height="3.9" rx="0.5"/>
<rect x="625.44" y="293.83" width="3.9" height="3.9" rx="0.5"/>
<rect x="628.76" y="294.27" width="3.9" height="3.9" rx="0.5"/>
<rect x="627.55" y="298.04" width="3.9" height="3.9" rx="0.5"/>
<rect x="628.38" y="299.57" width="3.9" height="3.9" rx="0.5"/>
<rect x="630.21" y="300.51" width="3.9" height="3.9" rx="0.5"/>
<rect x="627.99" y="301.34" width="3.9" height="3.9" rx="0.5"/>
<rect x="626.2" y="301.83" width="3.9" height="3.9" rx="0.5"/>
<rect x="627.74" y="303.03" width="3.9" height="3.9" rx="0.5"/>
<rect x="627.67" y="303.79" width="3.9" height="3.9" rx="0.5"/>
<rect x="629.95" y="305.15" width="3.9" height="3.9" rx="0.5"/>
<rect x="630.37" y="307.07" width="3.9" height="3.9" rx="0.5"/>
<rect x="627.55" y="315.55" width="3.9" height="3.9" rx="0.5"/>
<rect x="627.81" y="319.05" width="3.9" height="3.9" rx="0.5"/>
</g>
<g fill="#78cdd3" stroke="#288b94" stroke-width="1.1">
<rect x="648.15" y="271.65" width="3.9" height="3.9" rx="0.5"/>
<rect x="648.15" y="281.15" width="3.9" height="3.9" rx="0.5"/>
<rect x="652.15" y="282.95" width="3.9" height="3.9" rx="0.5"/>
<rect x="644.15" y="283.78" width="3.9" height="3.9" rx="0.5"/>
<rect x="647.08" y="284.47" width="3.9" height="3.9" rx="0.5"/>
<rect x="647.82" y="285.04" width="3.9" height="3.9" rx="0.5"/>
<rect x="644.19" y="285.62" width="3.9" height="3.9" rx="0.5"/>
<rect x="646.15" y="285.87" width="3.9" height="3.9" rx="0.5"/>
<rect x="648.81" y="286.54" width="3.9" height="3.9" rx="0.5"/>
<rect x="652.65" y="286.88" width="3.9" height="3.9" rx="0.5"/>
<rect x="651.51" y="287.43" width="3.9" height="3.9" rx="0.5"/>
<rect x="644.59" y="287.76" width="3.9" height="3.9" rx="0.5"/>
<rect x="643.24" y="288.19" width="3.9" height="3.9" rx="0.5"/>
<rect x="648.58" y="288.59" width="3.9" height="3.9" rx="0.5"/>
<rect x="649.24" y="289.02" width="3.9" height="3.9" rx="0.5"/>
<rect x="645.83" y="289.52" width="3.9" height="3.9" rx="0.5"/>
<rect x="648.77" y="290.01" width="3.9" height="3.9" rx="0.5"/>
<rect x="645.1" y="290.3" width="3.9" height="3.9" rx="0.5"/>
<rect x="646.16" y="290.91" width="3.9" height="3.9" rx="0.5"/>
<rect x="653.15" y="291.44" width="3.9" height="3.9" rx="0.5"/>
<rect x="647.01" y="291.81" width="3.9" height="3.9" rx="0.5"/>
<rect x="651.25" y="292.26" width="3.9" height="3.9" rx="0.5"/>
<rect x="651.67" y="292.96" width="3.9" height="3.9" rx="0.5"/>
<rect x="646.34" y="293.68" width="3.9" height="3.9" rx="0.5"/>
<rect x="645.83" y="294.24" width="3.9" height="3.9" rx="0.5"/>
<rect x="642.92" y="294.8" width="3.9" height="3.9" rx="0.5"/>
<rect x="650.23" y="295.81" width="3.9" height="3.9" rx="0.5"/>
<rect x="648.21" y="296.48" width="3.9" height="3.9" rx="0.5"/>
<rect x="645.79" y="297.84" width="3.9" height="3.9" rx="0.5"/>
<rect x="645.48" y="298.54" width="3.9" height="3.9" rx="0.5"/>
<rect x="649.65" y="300.75" width="3.9" height="3.9" rx="0.5"/>
<rect x="648.15" y="305.12" width="3.9" height="3.9" rx="0.5"/>
<rect x="647.24" y="307.45" width="3.9" height="3.9" rx="0.5"/>
<rect x="647.87" y="308.53" width="3.9" height="3.9" rx="0.5"/>
<rect x="650.35" y="309.51" width="3.9" height="3.9" rx="0.5"/>
<rect x="647.83" y="310.66" width="3.9" height="3.9" rx="0.5"/>
<rect x="648.57" y="312.72" width="3.9" height="3.9" rx="0.5"/>
<rect x="648.15" y="317.55" width="3.9" height="3.9" rx="0.5"/>
<rect x="647.1" y="321.05" width="3.9" height="3.9" rx="0.5"/>
<rect x="648.56" y="324.55" width="3.9" height="3.9" rx="0.5"/>
<rect x="648.83" y="328.05" width="3.9" height="3.9" rx="0.5"/>
</g>
<g fill="#22c0ff" stroke="#1e52f5" stroke-width="1.1">
<rect x="668.75" y="277.85" width="3.9" height="3.9" rx="0.5"/>
<rect x="668.75" y="282.74" width="3.9" height="3.9" rx="0.5"/>
<rect x="672.75" y="284.02" width="3.9" height="3.9" rx="0.5"/>
<rect x="664.75" y="285.21" width="3.9" height="3.9" rx="0.5"/>
<rect x="663.3" y="285.72" width="3.9" height="3.9" rx="0.5"/>
<rect x="668.75" y="286.72" width="3.9" height="3.9" rx="0.5"/>
<rect x="667.57" y="287.24" width="3.9" height="3.9" rx="0.5"/>
<rect x="672.75" y="287.91" width="3.9" height="3.9" rx="0.5"/>
<rect x="671.18" y="288.31" width="3.9" height="3.9" rx="0.5"/>
<rect x="670.49" y="288.88" width="3.9" height="3.9" rx="0.5"/>
<rect x="663.75" y="289.34" width="3.9" height="3.9" rx="0.5"/>
<rect x="666.87" y="289.81" width="3.9" height="3.9" rx="0.5"/>
<rect x="667.62" y="290.35" width="3.9" height="3.9" rx="0.5"/>
<rect x="663.95" y="290.7" width="3.9" height="3.9" rx="0.5"/>
<rect x="673.38" y="291.21" width="3.9" height="3.9" rx="0.5"/>
<rect x="667.68" y="291.51" width="3.9" height="3.9" rx="0.5"/>
<rect x="665.03" y="291.82" width="3.9" height="3.9" rx="0.5"/>
<rect x="672.65" y="292.34" width="3.9" height="3.9" rx="0.5"/>
<rect x="664.05" y="292.75" width="3.9" height="3.9" rx="0.5"/>
<rect x="669.54" y="293.09" width="3.9" height="3.9" rx="0.5"/>
<rect x="673.82" y="293.68" width="3.9" height="3.9" rx="0.5"/>
<rect x="670.56" y="294.03" width="3.9" height="3.9" rx="0.5"/>
<rect x="667.4" y="294.68" width="3.9" height="3.9" rx="0.5"/>
<rect x="663.41" y="295.33" width="3.9" height="3.9" rx="0.5"/>
<rect x="668.66" y="296.03" width="3.9" height="3.9" rx="0.5"/>
<rect x="664.2" y="296.89" width="3.9" height="3.9" rx="0.5"/>
<rect x="674.25" y="297.57" width="3.9" height="3.9" rx="0.5"/>
<rect x="665.01" y="298.21" width="3.9" height="3.9" rx="0.5"/>
<rect x="668.75" y="299.99" width="3.9" height="3.9" rx="0.5"/>
<rect x="668.75" y="304.29" width="3.9" height="3.9" rx="0.5"/>
<rect x="666.44" y="305.59" width="3.9" height="3.9" rx="0.5"/>
<rect x="669.35" y="306.92" width="3.9" height="3.9" rx="0.5"/>
<rect x="667.78" y="307.79" width="3.9" height="3.9" rx="0.5"/>
<rect x="668.75" y="314.55" width="3.9" height="3.9" rx="0.5"/>
<rect x="668.44" y="318.05" width="3.9" height="3.9" rx="0.5"/>
<rect x="668.75" y="327.85" width="3.9" height="3.9" rx="0.5"/>
</g>
<line x1="595" y1="258.1" x2="595" y2="347.5" stroke="#1a1a1a" stroke-width="1.15"/>
<line x1="591" y1="347.5" x2="685" y2="347.5" stroke="#1a1a1a" stroke-width="1.15"/>
<line x1="609" y1="347.5" x2="609" y2="351" stroke="#1a1a1a" stroke-width="1.15"/>
<line x1="629.5" y1="347.5" x2="629.5" y2="351" stroke="#1a1a1a" stroke-width="1.15"/>
<line x1="650.1" y1="347.5" x2="650.1" y2="351" stroke="#1a1a1a" stroke-width="1.15"/>
<line x1="670.7" y1="347.5" x2="670.7" y2="351" stroke="#1a1a1a" stroke-width="1.15"/>
<text transform="translate(613.5,360.4) rotate(-45) scale(0.92,1)" text-anchor="end" font-size="10.3" font-weight="bold">Control</text>
<text transform="translate(634,360.4) rotate(-45) scale(0.92,1)" text-anchor="end" font-size="10.3" font-weight="bold">Mild</text>
<text transform="translate(654.6,360.4) rotate(-45) scale(0.92,1)" text-anchor="end" font-size="10.3" font-weight="bold">Moderate</text>
<text transform="translate(675.2,360.4) rotate(-45) scale(0.92,1)" text-anchor="end" font-size="10.3" font-weight="bold">Severe</text>
<line x1="609.1" y1="244.5" x2="649.9" y2="244.5" stroke="#1e1e1e" stroke-width="1.05"/>
<use href="#st" x="625.4" y="238.9"/>
<use href="#st" x="630.05" y="238.9"/>
<line x1="609.1" y1="263" x2="629.7" y2="263" stroke="#1e1e1e" stroke-width="1.05"/>
<use href="#st" x="612.6" y="258.1"/>
<use href="#st" x="617.25" y="258.1"/>
<use href="#st" x="621.9" y="258.1"/>
<use href="#st" x="626.55" y="258.1"/>
</svg></body></html>
